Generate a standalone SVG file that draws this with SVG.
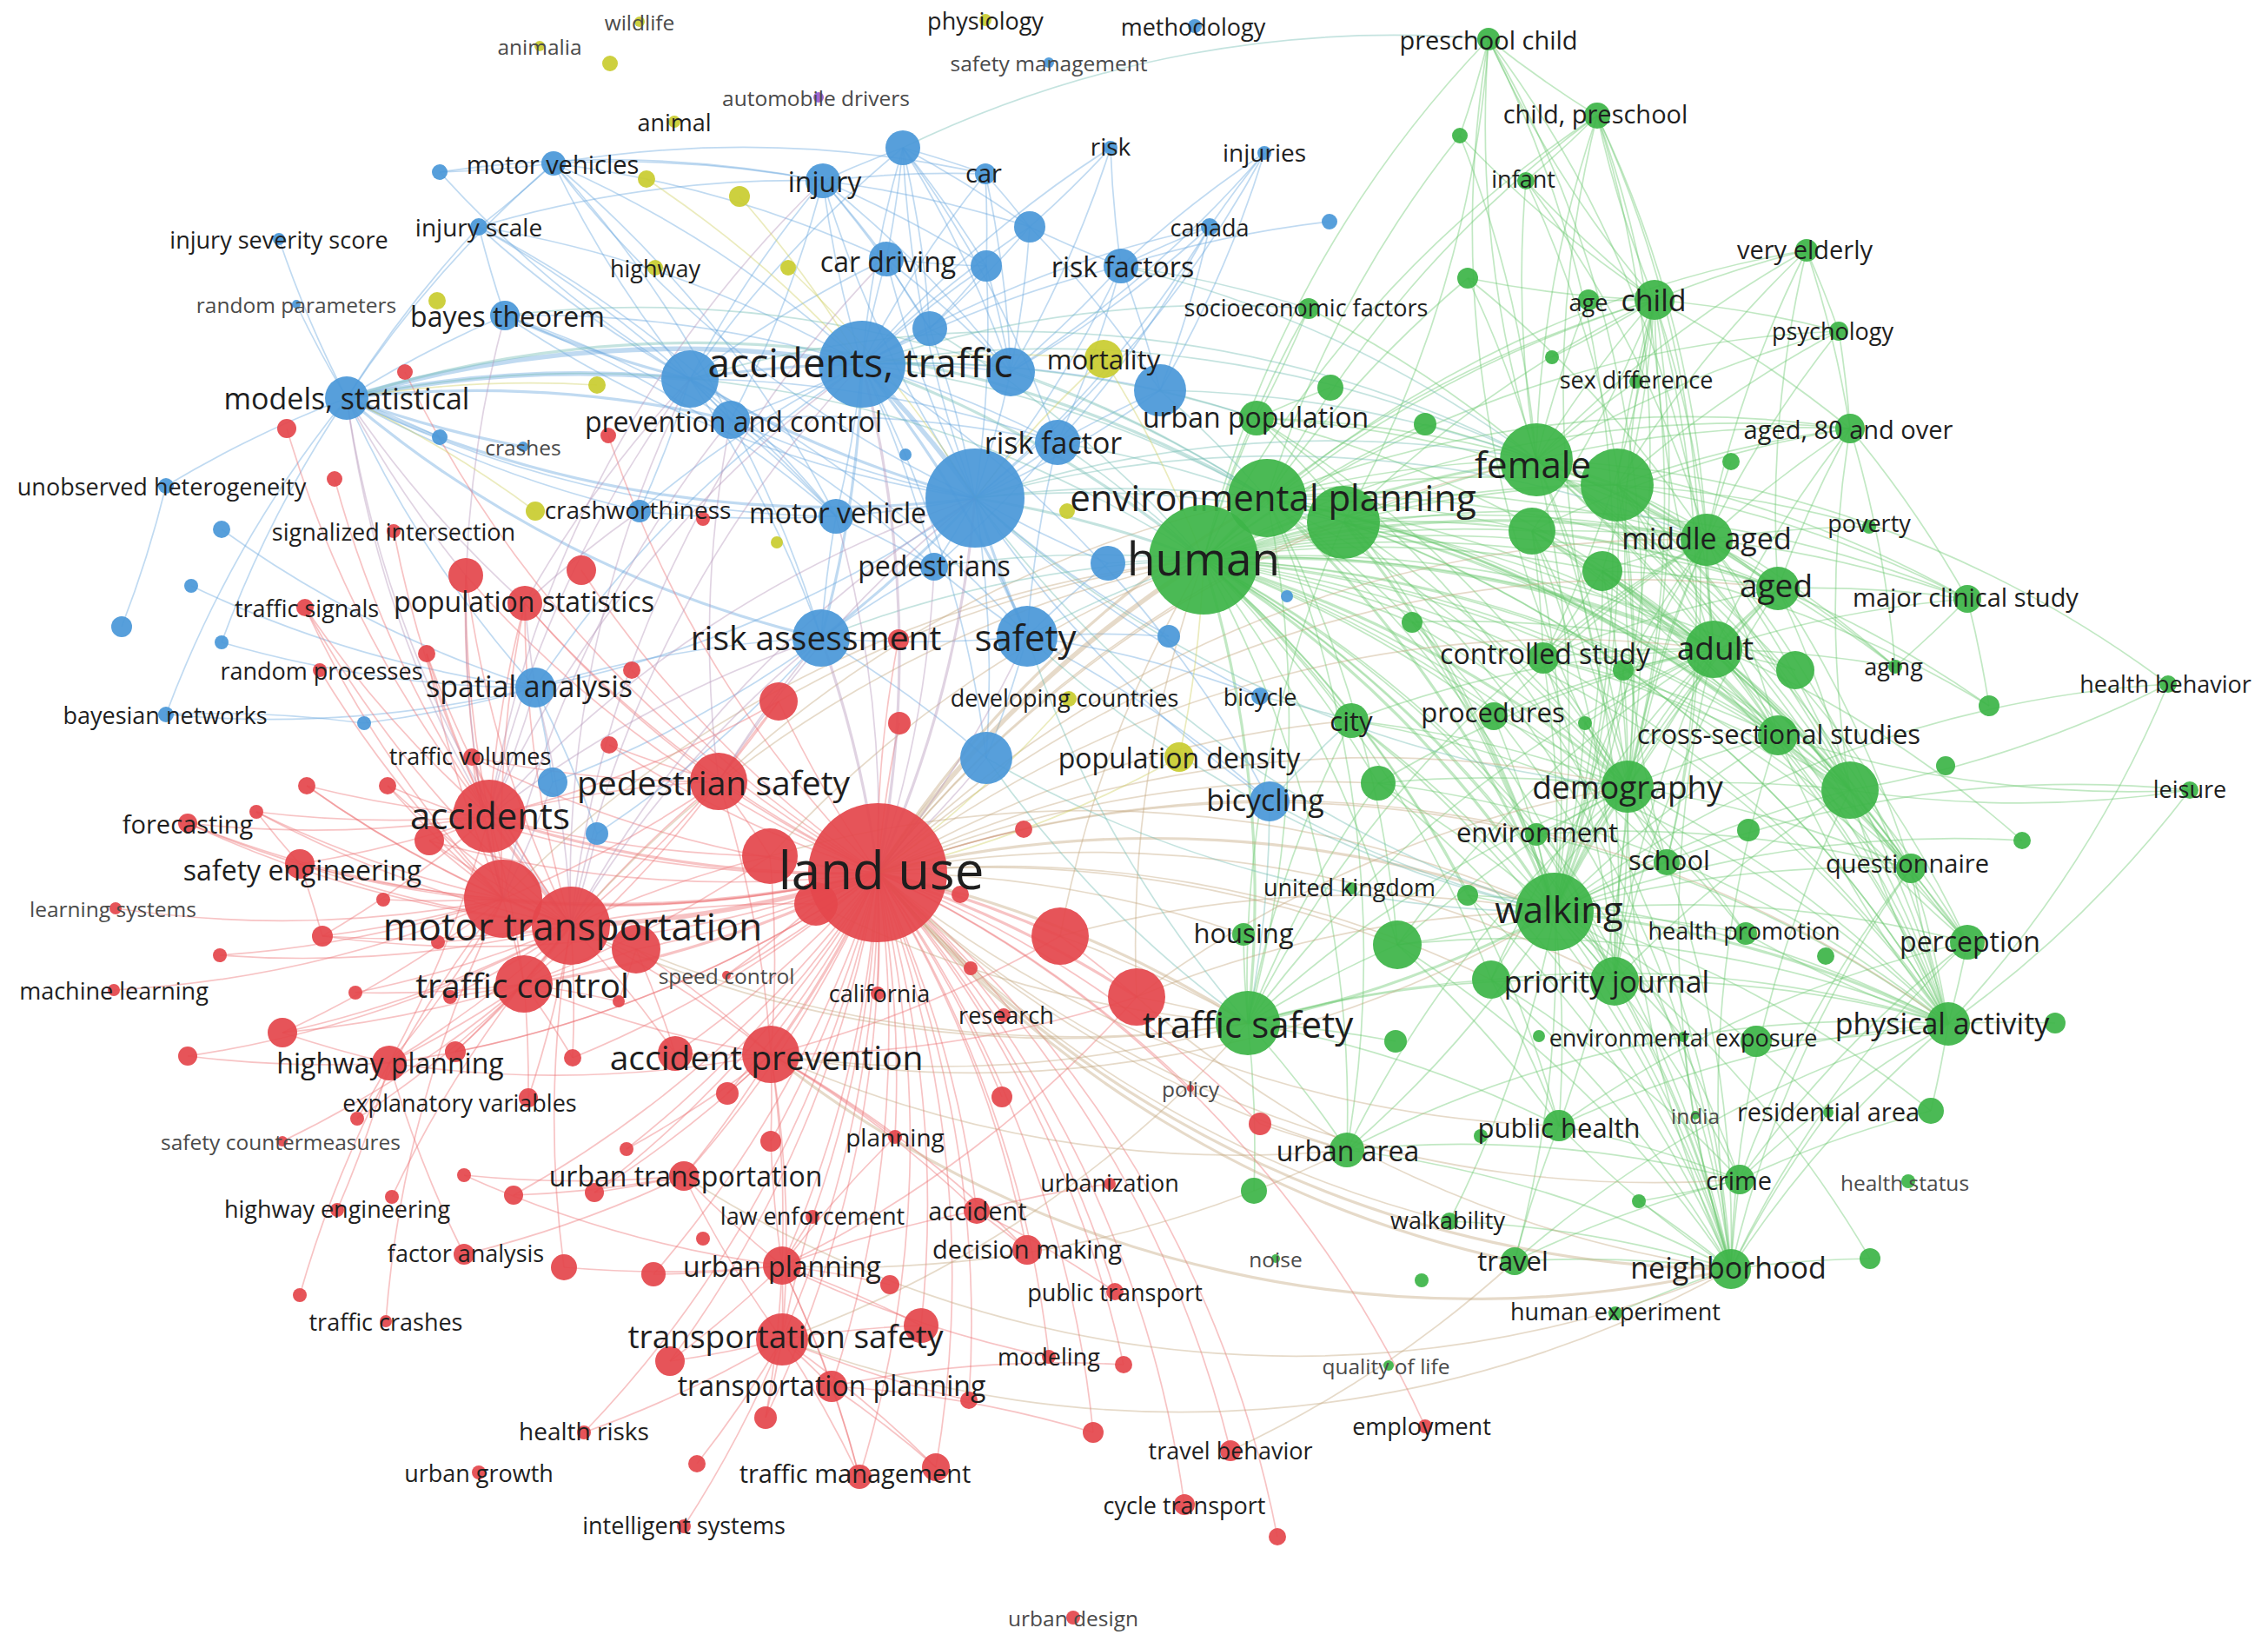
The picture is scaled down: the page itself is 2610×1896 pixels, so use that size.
<svg xmlns="http://www.w3.org/2000/svg" width="2610" height="1896" viewBox="0 0 2610 1896">
<style>
.er path{stroke:#ec6f73}.eb path{stroke:#6aa8dd}.eg path{stroke:#6cc76f}.et path{stroke:#c4a77f}.ebg path{stroke:#72bdb3}.ebr path{stroke:#b595b9}.ey path{stroke:#cfcf62}
#edges path{fill:none;stroke-width:1.7;stroke-opacity:.42}
#edges path.t2{stroke-width:3.2}#edges path.t3{stroke-width:5.5}
circle{fill-opacity:.93}
.r{fill:#e4474c}.b{fill:#4a98d8}.g{fill:#3db548}.y{fill:#c9cc30}.p{fill:#9a5bd1}
text{font-family:"Open Sans","DejaVu Sans",sans-serif;text-anchor:middle;dominant-baseline:central;fill:#1e1e1e}
.s24{font-size:24.5px;fill:#4a4a4a}.s27{font-size:27px}.s28{font-size:28px}.s29{font-size:29px}.s30{font-size:31px}.s32{font-size:32px}.s34{font-size:34px}.s37{font-size:37px}.s39{font-size:39px}.s42{font-size:42px}.s44{font-size:44px}.s46{font-size:46px}.s53{font-size:53px}.s60{font-size:60px}
</style>
<rect width="2610" height="1896" fill="#fff"/>
<g id="edges">
<g class="eg">
<path class="t2" d="M1385 644A1300 1300 0 0 1 1458 573"/>
<path class="t2" d="M1385 644A1300 1300 0 0 1 1546 601"/>
<path class="t2" d="M1385 644A1300 1300 0 0 1 1768 529"/>
<path d="M1385 644A1300 1300 0 0 1 1861 558"/>
<path d="M1385 644A1300 1300 0 0 1 1446 481"/>
<path d="M1385 644A1300 1300 0 0 1 1640 488"/>
<path d="M1385 644A1300 1300 0 0 1 1506 355"/>
<path d="M1385 644A1300 1300 0 0 1 1904 345"/>
<path class="t2" d="M1385 644A1300 1300 0 0 1 1964 621"/>
<path d="M1385 644A1300 1300 0 0 1 1763 611"/>
<path d="M1385 644A1300 1300 0 0 1 1844 657"/>
<path d="M1385 644A1300 1300 0 0 1 2046 677"/>
<path d="M1385 644A1300 1300 0 0 1 1776 757"/>
<path class="t2" d="M1385 644A1300 1300 0 0 1 1972 747"/>
<path d="M1385 644A1300 1300 0 0 1 2066 771"/>
<path d="M1385 644A1300 1300 0 0 1 2046 846"/>
<path d="M1385 644A1300 1300 0 0 1 2129 909"/>
<path class="t2" d="M1385 644A1300 1300 0 0 1 1873 905"/>
<path d="M1385 644A1300 1300 0 0 1 1768 960"/>
<path d="M1385 644A1300 1300 0 0 1 1918 992"/>
<path d="M1385 644A1300 1300 0 0 1 2199 999"/>
<path class="t2" d="M1385 644A1300 1300 0 0 1 1789 1049"/>
<path d="M1385 644A1300 1300 0 0 1 2009 1074"/>
<path d="M1385 644A1300 1300 0 0 1 2264 1084"/>
<path d="M1385 644A1300 1300 0 0 1 1858 1129"/>
<path d="M1385 644A1300 1300 0 0 1 1716 1127"/>
<path d="M1385 644A1300 1300 0 0 1 2242 1178"/>
<path class="t2" d="M1385 644A1300 1300 0 0 1 1436 1177"/>
<path d="M1385 644A1300 1300 0 0 1 1555 829"/>
<path d="M1385 644A1300 1300 0 0 1 1719 824"/>
<path d="M1385 644A1300 1300 0 0 1 1586 901"/>
<path d="M1385 644A1300 1300 0 0 1 1689 1030"/>
<path d="M1385 644A1300 1300 0 0 1 1608 1087"/>
<path d="M1385 644A1300 1300 0 0 1 1550 1323"/>
<path d="M1385 644A1300 1300 0 0 1 1794 1295"/>
<path d="M1385 644A1300 1300 0 0 1 2002 1357"/>
<path d="M1385 644A1300 1300 0 0 1 1992 1460"/>
<path d="M1385 644A1300 1300 0 0 1 2129 493"/>
<path d="M1385 644A1300 1300 0 0 1 2079 288"/>
<path d="M1385 644A1300 1300 0 0 1 1838 133"/>
<path d="M1385 644A1300 1300 0 0 1 2116 381"/>
<path d="M1385 644A1300 1300 0 0 1 2264 689"/>
<path d="M1385 644A1300 1300 0 0 1 2289 812"/>
<path d="M1385 644A1300 1300 0 0 1 2327 967"/>
<path d="M1385 644A1300 1300 0 0 1 1713 45"/>
<path d="M1385 644A1300 1300 0 0 1 1625 716"/>
<path d="M1458 573A1300 1300 0 0 1 1768 529"/>
<path d="M1458 573A1300 1300 0 0 1 1861 558"/>
<path d="M1458 573A1300 1300 0 0 1 1964 621"/>
<path d="M1458 573A1300 1300 0 0 1 1763 611"/>
<path d="M1458 573A1300 1300 0 0 1 2046 677"/>
<path d="M1458 573A1300 1300 0 0 1 1972 747"/>
<path d="M1458 573A1300 1300 0 0 1 2046 846"/>
<path d="M1458 573A1300 1300 0 0 1 2129 909"/>
<path d="M1458 573A1300 1300 0 0 1 1873 905"/>
<path class="t2" d="M1458 573A1300 1300 0 0 1 1789 1049"/>
<path d="M1458 573A1300 1300 0 0 1 1858 1129"/>
<path d="M1458 573A1300 1300 0 0 1 2242 1178"/>
<path d="M1458 573A1300 1300 0 0 1 1436 1177"/>
<path d="M1458 573A1300 1300 0 0 1 1608 1087"/>
<path d="M1458 573A1300 1300 0 0 1 1550 1323"/>
<path d="M1458 573A1300 1300 0 0 1 1992 1460"/>
<path d="M1458 573A1300 1300 0 0 1 1904 345"/>
<path d="M1458 573A1300 1300 0 0 1 1838 133"/>
<path d="M1458 573A1300 1300 0 0 1 2129 493"/>
<path d="M1458 573A1300 1300 0 0 1 2199 999"/>
<path d="M1458 573A1300 1300 0 0 1 2264 1084"/>
<path d="M1458 573A1300 1300 0 0 1 1546 601"/>
<path d="M1458 573A1300 1300 0 0 1 1689 320"/>
<path d="M1458 573A1300 1300 0 0 1 1680 156"/>
<path class="t2" d="M1768 529A1300 1300 0 0 1 1861 558"/>
<path d="M1768 529A1300 1300 0 0 1 1904 345"/>
<path class="t2" d="M1768 529A1300 1300 0 0 1 1964 621"/>
<path d="M1768 529A1300 1300 0 0 1 2046 677"/>
<path d="M1768 529A1300 1300 0 0 1 1972 747"/>
<path d="M1768 529A1300 1300 0 0 1 2129 493"/>
<path d="M1768 529A1300 1300 0 0 1 2079 288"/>
<path d="M1768 529A1300 1300 0 0 1 1838 133"/>
<path d="M1768 529A1300 1300 0 0 1 1713 45"/>
<path d="M1768 529A1300 1300 0 0 1 1756 208"/>
<path d="M1768 529A1300 1300 0 0 1 2116 381"/>
<path d="M1768 529A1300 1300 0 0 1 2046 846"/>
<path d="M1768 529A1300 1300 0 0 1 1873 905"/>
<path d="M1768 529A1300 1300 0 0 1 1789 1049"/>
<path d="M1768 529A1300 1300 0 0 1 2264 689"/>
<path d="M1768 529A1300 1300 0 0 1 2129 909"/>
<path d="M1768 529A1300 1300 0 0 1 2199 999"/>
<path d="M1768 529A1300 1300 0 0 1 2242 1178"/>
<path d="M1768 529A1300 1300 0 0 1 2264 1084"/>
<path d="M1768 529A1300 1300 0 0 1 1858 1129"/>
<path d="M1768 529A1300 1300 0 0 1 1828 345"/>
<path d="M1768 529A1300 1300 0 0 1 1883 439"/>
<path d="M1861 558A1300 1300 0 0 1 1964 621"/>
<path d="M1861 558A1300 1300 0 0 1 2046 677"/>
<path d="M1861 558A1300 1300 0 0 1 1972 747"/>
<path d="M1861 558A1300 1300 0 0 1 2129 493"/>
<path d="M1861 558A1300 1300 0 0 1 1904 345"/>
<path d="M1861 558A1300 1300 0 0 1 2046 846"/>
<path d="M1861 558A1300 1300 0 0 1 2129 909"/>
<path d="M1861 558A1300 1300 0 0 1 1873 905"/>
<path d="M1861 558A1300 1300 0 0 1 1789 1049"/>
<path d="M1861 558A1300 1300 0 0 1 2242 1178"/>
<path d="M1861 558A1300 1300 0 0 1 2264 689"/>
<path d="M1861 558A1300 1300 0 0 1 2181 767"/>
<path d="M1861 558A1300 1300 0 0 1 2151 606"/>
<path d="M1861 558A1300 1300 0 0 1 2079 288"/>
<path d="M1861 558A1300 1300 0 0 1 2116 381"/>
<path d="M1789 1049A1300 1300 0 0 1 1992 1460"/>
<path class="t2" d="M1789 1049A1300 1300 0 0 1 2242 1178"/>
<path d="M1789 1049A1300 1300 0 0 1 2264 1084"/>
<path d="M1789 1049A1300 1300 0 0 1 2199 999"/>
<path class="t2" d="M1789 1049A1300 1300 0 0 1 1873 905"/>
<path d="M1789 1049A1300 1300 0 0 1 2046 846"/>
<path d="M1789 1049A1300 1300 0 0 1 2129 909"/>
<path d="M1789 1049A1300 1300 0 0 1 1972 747"/>
<path d="M1789 1049A1300 1300 0 0 1 2046 677"/>
<path d="M1789 1049A1300 1300 0 0 1 1964 621"/>
<path d="M1789 1049A1300 1300 0 0 1 1858 1129"/>
<path d="M1789 1049A1300 1300 0 0 1 1794 1295"/>
<path d="M1789 1049A1300 1300 0 0 1 1743 1451"/>
<path d="M1789 1049A1300 1300 0 0 1 1668 1405"/>
<path d="M1789 1049A1300 1300 0 0 1 2002 1357"/>
<path d="M1789 1049A1300 1300 0 0 1 2104 1280"/>
<path d="M1789 1049A1300 1300 0 0 1 1550 1323"/>
<path class="t2" d="M1789 1049A1300 1300 0 0 1 1436 1177"/>
<path d="M1789 1049A1300 1300 0 0 1 1608 1087"/>
<path d="M1789 1049A1300 1300 0 0 1 1689 1030"/>
<path d="M1789 1049A1300 1300 0 0 1 1768 960"/>
<path d="M1789 1049A1300 1300 0 0 1 1918 992"/>
<path d="M1789 1049A1300 1300 0 0 1 2009 1074"/>
<path d="M1789 1049A1300 1300 0 0 1 1937 1193"/>
<path d="M1789 1049A1300 1300 0 0 1 2495 787"/>
<path d="M1789 1049A1300 1300 0 0 1 2520 909"/>
<path d="M1789 1049A1300 1300 0 0 1 2327 967"/>
<path d="M1789 1049A1300 1300 0 0 1 2222 1278"/>
<path d="M1789 1049A1300 1300 0 0 1 2152 1448"/>
<path d="M1992 1460A1300 1300 0 0 1 2002 1357"/>
<path d="M1743 1451A1300 1300 0 0 1 1992 1460"/>
<path d="M1668 1405A1300 1300 0 0 1 1992 1460"/>
<path d="M1992 1460A1300 1300 0 0 1 2242 1178"/>
<path d="M1992 1460A1300 1300 0 0 1 2264 1084"/>
<path d="M1992 1460A1300 1300 0 0 1 1873 905"/>
<path d="M1992 1460A1300 1300 0 0 1 2129 909"/>
<path d="M1992 1460A1300 1300 0 0 1 2104 1280"/>
<path d="M1992 1460A1300 1300 0 0 1 1794 1295"/>
<path d="M1550 1323A1300 1300 0 0 1 1992 1460"/>
<path d="M1886 1382A1300 1300 0 0 1 1992 1460"/>
<path d="M1992 1460A1300 1300 0 0 1 2152 1448"/>
<path d="M1859 1511A1300 1300 0 0 1 1992 1460"/>
<path d="M1992 1460A1300 1300 0 0 1 2199 999"/>
<path d="M1992 1460A1300 1300 0 0 1 1937 1193"/>
<path d="M1992 1460A1300 1300 0 0 1 2046 846"/>
<path d="M1992 1460A1300 1300 0 0 1 1972 747"/>
<path d="M1436 1177A1300 1300 0 0 1 1873 905"/>
<path d="M1436 1177A1300 1300 0 0 1 1550 1323"/>
<path d="M1436 1177A1300 1300 0 0 1 1858 1129"/>
<path d="M1436 1177A1300 1300 0 0 1 1608 1087"/>
<path d="M1436 1177A1300 1300 0 0 1 1716 1127"/>
<path d="M1436 1177A1300 1300 0 0 1 1431 1075"/>
<path d="M1436 1177A1300 1300 0 0 1 1555 829"/>
<path d="M1436 1177A1300 1300 0 0 1 1586 901"/>
<path d="M1436 1177A1300 1300 0 0 1 1794 1295"/>
<path d="M1436 1177A1300 1300 0 0 1 1546 601"/>
<path d="M1436 1177A1300 1300 0 0 1 1972 747"/>
<path d="M1436 1177A1300 1300 0 0 1 1964 621"/>
<path d="M1436 1177A1300 1300 0 0 1 1443 1370"/>
<path d="M1436 1177A1300 1300 0 0 1 1606 1198"/>
<path class="t2" d="M1972 747A1300 1300 0 0 1 1964 621"/>
<path class="t2" d="M1972 747A1300 1300 0 0 1 2046 677"/>
<path d="M1972 747A1300 1300 0 0 1 2046 846"/>
<path d="M1972 747A1300 1300 0 0 1 2129 909"/>
<path d="M1972 747A1300 1300 0 0 1 1873 905"/>
<path d="M1972 747A1300 1300 0 0 1 2199 999"/>
<path d="M1972 747A1300 1300 0 0 1 2242 1178"/>
<path d="M1972 747A1300 1300 0 0 1 2264 1084"/>
<path d="M1972 747A1300 1300 0 0 1 2264 689"/>
<path d="M1972 747A1300 1300 0 0 1 2181 767"/>
<path d="M1972 747A1300 1300 0 0 1 1904 345"/>
<path d="M1972 747A1300 1300 0 0 1 2129 493"/>
<path d="M1972 747A1300 1300 0 0 1 1844 657"/>
<path d="M1972 747A1300 1300 0 0 1 2066 771"/>
<path d="M1904 345A1300 1300 0 0 1 1838 133"/>
<path d="M1904 345A1300 1300 0 0 1 1713 45"/>
<path d="M1904 345A1300 1300 0 0 1 1756 208"/>
<path d="M1904 345A1300 1300 0 0 1 2079 288"/>
<path d="M1904 345A1300 1300 0 0 1 1828 345"/>
<path d="M1904 345A1300 1300 0 0 1 1883 439"/>
<path d="M1904 345A1300 1300 0 0 1 2116 381"/>
<path d="M1904 345A1300 1300 0 0 1 1964 621"/>
<path d="M1904 345A1300 1300 0 0 1 1873 905"/>
<path d="M1904 345A1300 1300 0 0 1 1918 992"/>
<path d="M1904 345A1300 1300 0 0 1 1763 611"/>
<path d="M1904 345A1300 1300 0 0 1 1844 657"/>
<path d="M1904 345A1300 1300 0 0 1 1689 320"/>
<path d="M1904 345A1300 1300 0 0 1 1680 156"/>
<path d="M1904 345A1300 1300 0 0 1 2129 493"/>
<path d="M1904 345A1300 1300 0 0 1 1786 411"/>
<path d="M1904 345A1300 1300 0 0 1 1776 757"/>
<path d="M1873 905A1300 1300 0 0 1 1964 621"/>
<path d="M1873 905A1300 1300 0 0 1 2046 677"/>
<path d="M1873 905A1300 1300 0 0 1 2046 846"/>
<path d="M1873 905A1300 1300 0 0 1 2129 909"/>
<path d="M1873 905A1300 1300 0 0 1 1918 992"/>
<path d="M1873 905A1300 1300 0 0 1 2199 999"/>
<path d="M1873 905A1300 1300 0 0 1 1858 1129"/>
<path d="M1873 905A1300 1300 0 0 1 2242 1178"/>
<path d="M1873 905A1300 1300 0 0 1 1794 1295"/>
<path d="M1873 905A1300 1300 0 0 1 1768 960"/>
<path d="M1873 905A1300 1300 0 0 1 2009 1074"/>
<path class="t2" d="M1964 621A1300 1300 0 0 1 2046 677"/>
<path d="M1964 621A1300 1300 0 0 1 2129 493"/>
<path d="M1964 621A1300 1300 0 0 1 2264 689"/>
<path d="M1964 621A1300 1300 0 0 1 2046 846"/>
<path d="M1964 621A1300 1300 0 0 1 2129 909"/>
<path d="M1964 621A1300 1300 0 0 1 2151 606"/>
<path d="M1964 621A1300 1300 0 0 1 2181 767"/>
<path d="M1964 621A1300 1300 0 0 1 2079 288"/>
<path d="M1964 621A1300 1300 0 0 1 2116 381"/>
<path d="M1964 621A1300 1300 0 0 1 1992 531"/>
<path d="M1964 621A1300 1300 0 0 1 2242 1178"/>
<path d="M2046 677A1300 1300 0 0 1 2129 493"/>
<path d="M2046 677A1300 1300 0 0 1 2264 689"/>
<path d="M2046 677A1300 1300 0 0 1 2079 288"/>
<path d="M2046 677A1300 1300 0 0 1 2181 767"/>
<path d="M2046 677A1300 1300 0 0 1 2129 909"/>
<path d="M2046 677A1300 1300 0 0 1 2242 1178"/>
<path d="M2046 677A1300 1300 0 0 1 2289 812"/>
<path d="M2495 787A1300 1300 0 0 1 2129 909"/>
<path d="M2495 787A1300 1300 0 0 1 2242 1178"/>
<path d="M1768 529A1300 1300 0 0 1 2495 787"/>
<path d="M2520 909A1300 1300 0 0 1 2242 1178"/>
<path d="M2520 909A1300 1300 0 0 1 2129 909"/>
<path d="M2520 909A1300 1300 0 0 1 2046 846"/>
<path d="M2079 288A1300 1300 0 0 1 2129 493"/>
<path d="M2079 288A1300 1300 0 0 1 2116 381"/>
<path d="M2116 381A1300 1300 0 0 1 2129 493"/>
<path d="M2264 1084A1300 1300 0 0 1 2242 1178"/>
<path d="M2264 1084A1300 1300 0 0 1 2199 999"/>
<path d="M2264 1084A1300 1300 0 0 1 2129 909"/>
<path d="M2264 1084A1300 1300 0 0 1 2046 846"/>
<path d="M2242 1178A1300 1300 0 0 1 2199 999"/>
<path d="M2242 1178A1300 1300 0 0 1 2129 909"/>
<path d="M2242 1178A1300 1300 0 0 1 2365 1177"/>
<path d="M2242 1178A1300 1300 0 0 1 2046 846"/>
<path d="M2242 1178A1300 1300 0 0 1 2222 1278"/>
<path d="M2242 1178A1300 1300 0 0 1 2009 1074"/>
<path d="M2242 1178A1300 1300 0 0 1 2021 1198"/>
<path d="M2002 1357A1300 1300 0 0 1 1886 1382"/>
<path d="M2002 1357A1300 1300 0 0 1 2222 1278"/>
<path d="M2002 1357A1300 1300 0 0 1 2242 1178"/>
<path d="M2002 1357A1300 1300 0 0 1 2264 1084"/>
<path d="M2002 1357A1300 1300 0 0 1 2199 999"/>
<path d="M1838 133A1300 1300 0 0 1 1713 45"/>
<path d="M1838 133A1300 1300 0 0 1 1756 208"/>
<path d="M1713 45A1300 1300 0 0 1 1680 156"/>
<path d="M1506 355A1300 1300 0 0 1 1446 481"/>
<path d="M1506 355A1300 1300 0 0 1 1768 529"/>
<path d="M1446 481A1300 1300 0 0 1 1768 529"/>
<path d="M1446 481A1300 1300 0 0 1 1531 446"/>
<path d="M1640 488A1300 1300 0 0 1 1768 529"/>
<path d="M1713 45A1300 1300 0 0 1 1972 747"/>
<path d="M1713 45A1300 1300 0 0 1 1546 601"/>
<path d="M1838 133A1300 1300 0 0 1 1964 621"/>
<path d="M1763 611A1300 1300 0 0 1 1964 621"/>
<path d="M1763 611A1300 1300 0 0 1 1972 747"/>
<path d="M1763 611A1300 1300 0 0 1 2046 677"/>
<path d="M1763 611A1300 1300 0 0 1 1873 905"/>
<path d="M1763 611A1300 1300 0 0 1 1789 1049"/>
<path d="M1763 611A1300 1300 0 0 1 1776 757"/>
<path d="M1763 611A1300 1300 0 0 1 2046 846"/>
<path d="M1763 611A1300 1300 0 0 1 2129 909"/>
<path d="M1763 611A1300 1300 0 0 1 2129 493"/>
<path d="M1763 611A1300 1300 0 0 1 1858 1129"/>
<path d="M1763 611A1300 1300 0 0 1 2242 1178"/>
<path d="M1844 657A1300 1300 0 0 1 1964 621"/>
<path d="M1844 657A1300 1300 0 0 1 2046 677"/>
<path d="M1844 657A1300 1300 0 0 1 1873 905"/>
<path d="M1844 657A1300 1300 0 0 1 1789 1049"/>
<path d="M1844 657A1300 1300 0 0 1 2046 846"/>
<path d="M1844 657A1300 1300 0 0 1 2129 909"/>
<path d="M1844 657A1300 1300 0 0 1 2242 1178"/>
<path d="M1844 657A1300 1300 0 0 1 2199 999"/>
<path d="M1844 657A1300 1300 0 0 1 1776 757"/>
<path d="M1776 757A1300 1300 0 0 1 1964 621"/>
<path d="M1776 757A1300 1300 0 0 1 1972 747"/>
<path d="M1776 757A1300 1300 0 0 1 2046 677"/>
<path d="M1776 757A1300 1300 0 0 1 1873 905"/>
<path d="M1776 757A1300 1300 0 0 1 1789 1049"/>
<path d="M1776 757A1300 1300 0 0 1 2046 846"/>
<path d="M1776 757A1300 1300 0 0 1 2129 909"/>
<path d="M1776 757A1300 1300 0 0 1 1858 1129"/>
<path d="M1776 757A1300 1300 0 0 1 2242 1178"/>
<path d="M1868 771A1300 1300 0 0 1 1964 621"/>
<path d="M1868 771A1300 1300 0 0 1 1972 747"/>
<path d="M1868 771A1300 1300 0 0 1 1873 905"/>
<path d="M1868 771A1300 1300 0 0 1 1789 1049"/>
<path d="M1824 832A1300 1300 0 0 1 1972 747"/>
<path d="M1824 832A1300 1300 0 0 1 1789 1049"/>
<path d="M1824 832A1300 1300 0 0 1 1873 905"/>
<path d="M1768 960A1300 1300 0 0 1 1992 1460"/>
<path d="M1768 960A1300 1300 0 0 1 1858 1129"/>
<path d="M1768 960A1300 1300 0 0 1 2242 1178"/>
<path d="M1768 960A1300 1300 0 0 1 2199 999"/>
<path d="M1716 1127A1300 1300 0 0 1 1992 1460"/>
<path d="M1716 1127A1300 1300 0 0 1 1873 905"/>
<path d="M1716 1127A1300 1300 0 0 1 1972 747"/>
<path d="M1716 1127A1300 1300 0 0 1 2242 1178"/>
<path d="M1716 1127A1300 1300 0 0 1 1794 1295"/>
<path d="M1716 1127A1300 1300 0 0 1 2002 1357"/>
<path d="M1586 901A1300 1300 0 0 1 1789 1049"/>
<path d="M1586 901A1300 1300 0 0 1 1873 905"/>
<path d="M1586 901A1300 1300 0 0 1 1972 747"/>
<path d="M1586 901A1300 1300 0 0 1 1992 1460"/>
<path d="M1586 901A1300 1300 0 0 1 2242 1178"/>
<path d="M1555 829A1300 1300 0 0 1 1789 1049"/>
<path d="M1555 829A1300 1300 0 0 1 1873 905"/>
<path d="M1555 829A1300 1300 0 0 1 1992 1460"/>
<path d="M1555 829A1300 1300 0 0 1 2242 1178"/>
<path d="M1555 829A1300 1300 0 0 1 1972 747"/>
<path d="M1719 824A1300 1300 0 0 1 1789 1049"/>
<path d="M1719 824A1300 1300 0 0 1 1873 905"/>
<path d="M1719 824A1300 1300 0 0 1 1972 747"/>
<path d="M1719 824A1300 1300 0 0 1 1964 621"/>
<path d="M1625 716A1300 1300 0 0 1 1789 1049"/>
<path d="M1625 716A1300 1300 0 0 1 1972 747"/>
<path d="M1625 716A1300 1300 0 0 1 1873 905"/>
<path d="M1689 1030A1300 1300 0 0 1 1992 1460"/>
<path d="M1689 1030A1300 1300 0 0 1 2242 1178"/>
<path d="M1608 1087A1300 1300 0 0 1 1992 1460"/>
<path d="M1608 1087A1300 1300 0 0 1 2242 1178"/>
<path d="M1608 1087A1300 1300 0 0 1 1873 905"/>
<path d="M1608 1087A1300 1300 0 0 1 1972 747"/>
<path d="M1608 1087A1300 1300 0 0 1 1794 1295"/>
<path d="M1546 601A1300 1300 0 0 1 1768 529"/>
<path d="M1546 601A1300 1300 0 0 1 1861 558"/>
<path d="M1546 601A1300 1300 0 0 1 1964 621"/>
<path d="M1546 601A1300 1300 0 0 1 1972 747"/>
<path d="M1546 601A1300 1300 0 0 1 1873 905"/>
<path class="t2" d="M1546 601A1300 1300 0 0 1 1789 1049"/>
<path d="M1546 601A1300 1300 0 0 1 2046 677"/>
<path d="M1546 601A1300 1300 0 0 1 2242 1178"/>
<path d="M1546 601A1300 1300 0 0 1 1992 1460"/>
<path d="M1546 601A1300 1300 0 0 1 2129 909"/>
<path d="M1546 601A1300 1300 0 0 1 2046 846"/>
<path d="M1546 601A1300 1300 0 0 1 1904 345"/>
<path d="M1446 481A1300 1300 0 0 1 1789 1049"/>
<path d="M1446 481A1300 1300 0 0 1 1873 905"/>
<path d="M1446 481A1300 1300 0 0 1 1972 747"/>
<path d="M1446 481A1300 1300 0 0 1 1964 621"/>
<path d="M1446 481A1300 1300 0 0 1 1992 1460"/>
<path d="M1918 992A1300 1300 0 0 1 1904 345"/>
<path d="M1918 992A1300 1300 0 0 1 1838 133"/>
<path d="M1918 992A1300 1300 0 0 1 1713 45"/>
<path d="M1918 992A1300 1300 0 0 1 1992 1460"/>
<path d="M1858 1129A1300 1300 0 0 1 1964 621"/>
<path d="M1858 1129A1300 1300 0 0 1 1972 747"/>
<path d="M1858 1129A1300 1300 0 0 1 2046 677"/>
<path d="M1858 1129A1300 1300 0 0 1 2242 1178"/>
<path d="M1858 1129A1300 1300 0 0 1 1992 1460"/>
<path d="M1858 1129A1300 1300 0 0 1 2129 909"/>
<path d="M2129 909A1300 1300 0 0 1 2199 999"/>
<path d="M2129 909A1300 1300 0 0 1 2129 493"/>
<path d="M2046 846A1300 1300 0 0 1 2199 999"/>
<path d="M1794 1295A1300 1300 0 0 1 2242 1178"/>
<path d="M1794 1295A1300 1300 0 0 1 2264 1084"/>
<path d="M1794 1295A1300 1300 0 0 1 2002 1357"/>
<path d="M1743 1451A1300 1300 0 0 1 2242 1178"/>
<path d="M1743 1451A1300 1300 0 0 1 2002 1357"/>
<path d="M1743 1451A1300 1300 0 0 1 1794 1295"/>
<path d="M1550 1323A1300 1300 0 0 1 2242 1178"/>
<path d="M1550 1323A1300 1300 0 0 1 2002 1357"/>
<path d="M1550 1323A1300 1300 0 0 1 1873 905"/>
<path d="M2129 493A1300 1300 0 0 1 2181 767"/>
<path d="M2129 493A1300 1300 0 0 1 2264 689"/>
<path d="M2264 689A1300 1300 0 0 1 2181 767"/>
<path d="M2264 689A1300 1300 0 0 1 2289 812"/>
<path d="M1713 45A1300 1300 0 0 1 1789 1049"/>
<path d="M1713 45A1300 1300 0 0 1 1873 905"/>
<path d="M1838 133A1300 1300 0 0 1 1873 905"/>
<path d="M1838 133A1300 1300 0 0 1 1789 1049"/>
<path d="M1838 133A1300 1300 0 0 1 1918 992"/>
<path d="M1756 208A1300 1300 0 0 1 1964 621"/>
<path d="M1756 208A1300 1300 0 0 1 1873 905"/>
<path d="M1689 320A1300 1300 0 0 1 1768 529"/>
<path d="M1689 320A1300 1300 0 0 1 1964 621"/>
<path d="M1680 156A1300 1300 0 0 1 1768 529"/>
</g>
<g class="eb">
<path class="t3" d="M399 458A1300 1300 0 0 1 992 419"/>
<path class="t3" d="M399 458A1300 1300 0 0 1 794 436"/>
<path class="t2" d="M399 458A1300 1300 0 0 1 841 483"/>
<path d="M399 458A1300 1300 0 0 1 581 363"/>
<path d="M399 458A1300 1300 0 0 1 506 503"/>
<path class="t2" d="M399 458A1300 1300 0 0 0 602 514"/>
<path class="t2" d="M399 458A1300 1300 0 0 0 1122 573"/>
<path d="M399 458A1300 1300 0 0 1 551 261"/>
<path d="M399 458A1300 1300 0 0 0 191 559"/>
<path d="M399 458A1300 1300 0 0 0 616 791"/>
<path class="t2" d="M399 458A1300 1300 0 0 0 945 734"/>
<path d="M399 458A1300 1300 0 0 0 736 588"/>
<path d="M399 458A1300 1300 0 0 0 962 594"/>
<path d="M399 458A1300 1300 0 0 0 191 822"/>
<path d="M399 458A1300 1300 0 0 0 255 739"/>
<path d="M399 458A1300 1300 0 0 1 321 275"/>
<path d="M399 458A1300 1300 0 0 1 341 350"/>
<path d="M399 458A1300 1300 0 0 1 637 188"/>
<path class="t2" d="M992 419A1300 1300 0 0 0 794 436"/>
<path d="M992 419A1300 1300 0 0 1 841 483"/>
<path d="M992 419A1300 1300 0 0 1 1163 428"/>
<path d="M992 419A1300 1300 0 0 1 1070 378"/>
<path d="M992 419A1300 1300 0 0 1 1335 449"/>
<path d="M992 419A1300 1300 0 0 1 947 208"/>
<path d="M992 419A1300 1300 0 0 1 1039 170"/>
<path d="M992 419A1300 1300 0 0 1 1185 261"/>
<path d="M992 419A1300 1300 0 0 1 1020 298"/>
<path d="M992 419A1300 1300 0 0 1 1135 306"/>
<path d="M992 419A1300 1300 0 0 1 1290 306"/>
<path d="M992 419A1300 1300 0 0 1 1217 509"/>
<path d="M992 419A1300 1300 0 0 1 962 594"/>
<path class="t3" d="M992 419A1300 1300 0 0 1 1122 573"/>
<path d="M992 419A1300 1300 0 0 1 1075 652"/>
<path class="t2" d="M992 419A1300 1300 0 0 1 1182 732"/>
<path class="t2" d="M992 419A1300 1300 0 0 1 945 734"/>
<path d="M992 419A1300 1300 0 0 0 637 188"/>
<path d="M992 419A1300 1300 0 0 0 551 261"/>
<path d="M992 419A1300 1300 0 0 0 581 363"/>
<path d="M992 419A1300 1300 0 0 1 1135 872"/>
<path d="M992 419A1300 1300 0 0 1 1461 922"/>
<path d="M992 419A1300 1300 0 0 0 616 791"/>
<path d="M992 419A1300 1300 0 0 0 736 588"/>
<path d="M992 419A1300 1300 0 0 1 1392 261"/>
<path d="M992 419A1300 1300 0 0 1 1278 170"/>
<path d="M992 419A1300 1300 0 0 1 1134 200"/>
<path class="t2" d="M1122 573A1300 1300 0 0 1 794 436"/>
<path d="M1122 573A1300 1300 0 0 1 841 483"/>
<path d="M1122 573A1300 1300 0 0 0 1163 428"/>
<path d="M1122 573A1300 1300 0 0 0 1070 378"/>
<path d="M1122 573A1300 1300 0 0 0 1335 449"/>
<path d="M1122 573A1300 1300 0 0 1 947 208"/>
<path d="M1122 573A1300 1300 0 0 1 1039 170"/>
<path d="M1122 573A1300 1300 0 0 1 1020 298"/>
<path d="M1122 573A1300 1300 0 0 0 1135 306"/>
<path d="M1122 573A1300 1300 0 0 0 1290 306"/>
<path d="M1122 573A1300 1300 0 0 0 1217 509"/>
<path d="M1122 573A1300 1300 0 0 1 962 594"/>
<path d="M1122 573A1300 1300 0 0 1 1075 652"/>
<path d="M1122 573A1300 1300 0 0 0 1275 648"/>
<path class="t2" d="M1122 573A1300 1300 0 0 0 1182 732"/>
<path class="t2" d="M1122 573A1300 1300 0 0 1 945 734"/>
<path d="M1122 573A1300 1300 0 0 1 1135 872"/>
<path d="M1122 573A1300 1300 0 0 0 1461 922"/>
<path d="M1122 573A1300 1300 0 0 1 616 791"/>
<path d="M1122 573A1300 1300 0 0 1 637 188"/>
<path d="M1122 573A1300 1300 0 0 1 581 363"/>
<path d="M1122 573A1300 1300 0 0 0 1392 261"/>
<path d="M1122 573A1300 1300 0 0 0 1345 732"/>
<path d="M1122 573A1300 1300 0 0 0 1450 801"/>
<path d="M1122 573A1300 1300 0 0 0 1455 176"/>
<path d="M794 436A1300 1300 0 0 1 841 483"/>
<path d="M794 436A1300 1300 0 0 1 947 208"/>
<path d="M794 436A1300 1300 0 0 1 1039 170"/>
<path d="M794 436A1300 1300 0 0 1 1020 298"/>
<path d="M794 436A1300 1300 0 0 1 1217 509"/>
<path d="M794 436A1300 1300 0 0 1 962 594"/>
<path d="M794 436A1300 1300 0 0 1 1182 732"/>
<path d="M794 436A1300 1300 0 0 1 945 734"/>
<path d="M794 436A1300 1300 0 0 1 637 188"/>
<path d="M794 436A1300 1300 0 0 1 551 261"/>
<path class="t2" d="M794 436A1300 1300 0 0 1 581 363"/>
<path d="M794 436A1300 1300 0 0 1 736 588"/>
<path d="M794 436A1300 1300 0 0 1 506 198"/>
<path d="M947 208A1300 1300 0 0 1 1039 170"/>
<path d="M947 208A1300 1300 0 0 1 1134 200"/>
<path d="M947 208A1300 1300 0 0 1 1020 298"/>
<path d="M947 208A1300 1300 0 0 1 1135 306"/>
<path d="M947 208A1300 1300 0 0 0 637 188"/>
<path d="M947 208A1300 1300 0 0 0 551 261"/>
<path d="M947 208A1300 1300 0 0 1 1070 378"/>
<path d="M947 208A1300 1300 0 0 1 841 483"/>
<path d="M947 208A1300 1300 0 0 0 506 198"/>
<path d="M947 208A1300 1300 0 0 1 1163 428"/>
<path d="M947 208A1300 1300 0 0 1 1185 261"/>
<path d="M1039 170A1300 1300 0 0 1 1134 200"/>
<path d="M1039 170A1300 1300 0 0 1 1020 298"/>
<path d="M1039 170A1300 1300 0 0 1 1135 306"/>
<path d="M1039 170A1300 1300 0 0 1 1070 378"/>
<path d="M1039 170A1300 1300 0 0 1 1185 261"/>
<path d="M1039 170A1300 1300 0 0 1 1163 428"/>
<path d="M1039 170A1300 1300 0 0 1 1217 509"/>
<path d="M1290 306A1300 1300 0 0 1 1392 261"/>
<path d="M1290 306A1300 1300 0 0 1 1278 170"/>
<path d="M1290 306A1300 1300 0 0 1 1455 176"/>
<path d="M1290 306A1300 1300 0 0 1 1185 261"/>
<path d="M1290 306A1300 1300 0 0 1 1217 509"/>
<path d="M1290 306A1300 1300 0 0 1 1335 449"/>
<path d="M1290 306A1300 1300 0 0 1 1163 428"/>
<path d="M1290 306A1300 1300 0 0 1 1530 255"/>
<path d="M1185 261A1300 1300 0 0 1 1163 428"/>
<path d="M1185 261A1300 1300 0 0 1 1070 378"/>
<path d="M1185 261A1300 1300 0 0 1 1335 449"/>
<path d="M1392 261A1300 1300 0 0 1 1335 449"/>
<path d="M1392 261A1300 1300 0 0 1 1217 509"/>
<path d="M1392 261A1300 1300 0 0 1 1163 428"/>
<path d="M1278 170A1300 1300 0 0 1 1185 261"/>
<path d="M1278 170A1300 1300 0 0 1 1163 428"/>
<path d="M1455 176A1300 1300 0 0 1 1335 449"/>
<path d="M1455 176A1300 1300 0 0 1 1163 428"/>
<path d="M1135 306A1300 1300 0 0 1 1070 378"/>
<path d="M1135 306A1300 1300 0 0 1 1020 298"/>
<path d="M1135 306A1300 1300 0 0 1 1163 428"/>
<path d="M1020 298A1300 1300 0 0 1 1163 428"/>
<path d="M1134 200A1300 1300 0 0 1 1135 306"/>
<path d="M1134 200A1300 1300 0 0 1 1163 428"/>
<path d="M1182 732A1300 1300 0 0 1 945 734"/>
<path d="M1182 732A1300 1300 0 0 1 1217 509"/>
<path d="M1182 732A1300 1300 0 0 1 1135 872"/>
<path d="M1182 732A1300 1300 0 0 1 1461 922"/>
<path d="M1182 732A1300 1300 0 0 1 1075 652"/>
<path d="M1182 732A1300 1300 0 0 1 1275 648"/>
<path d="M1182 732A1300 1300 0 0 1 1345 732"/>
<path d="M1182 732A1300 1300 0 0 1 1450 801"/>
<path d="M616 791A1300 1300 0 0 1 945 734"/>
<path d="M616 791A1300 1300 0 0 1 636 900"/>
<path d="M616 791A1300 1300 0 0 1 419 832"/>
<path d="M616 791A1300 1300 0 0 1 255 739"/>
<path d="M616 791A1300 1300 0 0 1 191 822"/>
<path d="M616 791A1300 1300 0 0 1 255 609"/>
<path d="M616 791A1300 1300 0 0 1 687 959"/>
<path d="M616 791A1300 1300 0 0 1 220 674"/>
<path d="M945 734A1300 1300 0 0 1 1075 652"/>
<path d="M945 734A1300 1300 0 0 1 962 594"/>
<path d="M945 734A1300 1300 0 0 1 1135 872"/>
<path d="M945 734A1300 1300 0 0 1 636 900"/>
<path d="M945 734A1300 1300 0 0 1 687 959"/>
<path d="M637 188A1300 1300 0 0 1 551 261"/>
<path d="M637 188A1300 1300 0 0 1 506 198"/>
<path d="M637 188A1300 1300 0 0 1 841 483"/>
<path d="M637 188A1300 1300 0 0 1 962 594"/>
<path d="M637 188A1300 1300 0 0 1 1020 298"/>
<path d="M637 188A1300 1300 0 0 1 1134 200"/>
<path d="M581 363A1300 1300 0 0 1 551 261"/>
<path d="M581 363A1300 1300 0 0 1 841 483"/>
<path d="M581 363A1300 1300 0 0 1 962 594"/>
<path d="M551 261A1300 1300 0 0 1 841 483"/>
<path d="M551 261A1300 1300 0 0 1 962 594"/>
<path d="M841 483A1300 1300 0 0 1 962 594"/>
<path d="M841 483A1300 1300 0 0 1 1217 509"/>
<path d="M841 483A1300 1300 0 0 1 945 734"/>
<path d="M841 483A1300 1300 0 0 1 1075 652"/>
<path d="M1392 261A1300 1300 0 0 1 1455 176"/>
<path d="M191 559A1300 1300 0 0 1 140 721"/>
<path d="M191 822A1300 1300 0 0 1 419 832"/>
<path d="M1217 509A1300 1300 0 0 1 1335 449"/>
<path d="M1217 509A1300 1300 0 0 1 1075 652"/>
<path d="M962 594A1300 1300 0 0 1 736 588"/>
<path d="M962 594A1300 1300 0 0 1 1075 652"/>
<path d="M1134 200A1300 1300 0 0 1 1185 261"/>
<path d="M1070 378A1300 1300 0 0 1 1020 298"/>
</g>
<g class="er">
<path d="M1010 1004A1300 1300 0 0 1 939 1040"/>
<path d="M1010 1004A1300 1300 0 0 1 886 985"/>
<path class="t2" d="M1010 1004A1300 1300 0 0 1 579 1034"/>
<path class="t3" d="M1010 1004A1300 1300 0 0 1 657 1065"/>
<path d="M1010 1004A1300 1300 0 0 1 732 1092"/>
<path class="t2" d="M1010 1004A1300 1300 0 0 1 563 939"/>
<path d="M1010 1004A1300 1300 0 0 1 827 899"/>
<path class="t2" d="M1010 1004A1300 1300 0 0 1 603 1132"/>
<path d="M1010 1004A1300 1300 0 0 1 604 694"/>
<path d="M1010 1004A1300 1300 0 0 1 536 662"/>
<path d="M1010 1004A1300 1300 0 0 1 669 656"/>
<path d="M1010 1004A1300 1300 0 0 1 727 771"/>
<path d="M1010 1004A1300 1300 0 0 1 543 871"/>
<path d="M1010 1004A1300 1300 0 0 1 701 857"/>
<path d="M1010 1004A1300 1300 0 0 1 345 994"/>
<path d="M1010 1004A1300 1300 0 0 1 448 1223"/>
<path class="t2" d="M1010 1004A1300 1300 0 0 1 887 1213"/>
<path d="M1010 1004A1300 1300 0 0 1 777 1212"/>
<path d="M1010 1004A1300 1300 0 0 1 837 1258"/>
<path d="M1010 1004A1300 1300 0 0 1 1155 1168"/>
<path d="M1010 1004A1300 1300 0 0 1 1010 1143"/>
<path d="M1010 1004A1300 1300 0 0 1 1117 1114"/>
<path d="M1010 1004A1300 1300 0 0 1 1105 1029"/>
<path d="M1010 1004A1300 1300 0 0 1 1178 954"/>
<path class="t2" d="M1010 1004A1300 1300 0 0 1 1220 1077"/>
<path class="t2" d="M1010 1004A1300 1300 0 0 1 1308 1147"/>
<path d="M1010 1004A1300 1300 0 0 1 896 807"/>
<path d="M1010 1004A1300 1300 0 0 1 1035 832"/>
<path d="M1010 1004A1300 1300 0 0 1 1034 736"/>
<path d="M1010 1004A1300 1300 0 0 1 1153 1262"/>
<path d="M1010 1004A1300 1300 0 0 1 1030 1308"/>
<path d="M1010 1004A1300 1300 0 0 1 787 1353"/>
<path d="M1010 1004A1300 1300 0 0 1 887 1313"/>
<path d="M1010 1004A1300 1300 0 0 1 1124 1393"/>
<path d="M1010 1004A1300 1300 0 0 1 1182 1438"/>
<path d="M1010 1004A1300 1300 0 0 1 900 1456"/>
<path d="M1010 1004A1300 1300 0 0 1 900 1541"/>
<path d="M1010 1004A1300 1300 0 0 1 1060 1525"/>
<path d="M1010 1004A1300 1300 0 0 1 957 1595"/>
<path d="M1010 1004A1300 1300 0 0 1 216 947"/>
<path d="M1010 1004A1300 1300 0 0 1 446 904"/>
<path d="M1010 1004A1300 1300 0 0 1 494 967"/>
<path d="M1010 1004A1300 1300 0 0 1 371 1077"/>
<path d="M1010 1004A1300 1300 0 0 1 524 1210"/>
<path d="M1010 1004A1300 1300 0 0 1 659 1217"/>
<path d="M1010 1004A1300 1300 0 0 1 1450 1293"/>
<path d="M1010 1004A1300 1300 0 0 1 1283 1486"/>
<path d="M1010 1004A1300 1300 0 0 1 1416 1669"/>
<path d="M1010 1004A1300 1300 0 0 1 1363 1731"/>
<path d="M1010 1004A1300 1300 0 0 1 989 1699"/>
<path d="M1010 1004A1300 1300 0 0 1 836 1122"/>
<path d="M1010 1004A1300 1300 0 0 1 700 501"/>
<path d="M1010 1004A1300 1300 0 0 1 466 428"/>
<path d="M1010 1004A1300 1300 0 0 1 1370 1252"/>
<path d="M1010 1004A1300 1300 0 0 1 721 1322"/>
<path d="M1010 1004A1300 1300 0 0 1 684 1372"/>
<path d="M1010 1004A1300 1300 0 0 1 591 1375"/>
<path d="M1010 1004A1300 1300 0 0 1 935 1400"/>
<path d="M1010 1004A1300 1300 0 0 1 752 1466"/>
<path d="M1010 1004A1300 1300 0 0 1 771 1566"/>
<path d="M1010 1004A1300 1300 0 0 1 881 1631"/>
<path d="M1010 1004A1300 1300 0 0 1 1258 1648"/>
<path d="M1010 1004A1300 1300 0 0 1 1640 1641"/>
<path d="M1010 1004A1300 1300 0 0 1 1470 1768"/>
<path d="M1010 1004A1300 1300 0 0 1 1115 1611"/>
<path d="M1010 1004A1300 1300 0 0 1 1293 1570"/>
<path d="M1010 1004A1300 1300 0 0 1 1207 1561"/>
<path d="M1010 1004A1300 1300 0 0 1 1077 1688"/>
<path d="M1010 1004A1300 1300 0 0 1 672 1648"/>
<path class="t2" d="M657 1065A1300 1300 0 0 1 579 1034"/>
<path d="M657 1065A1300 1300 0 0 1 732 1092"/>
<path class="t2" d="M657 1065A1300 1300 0 0 1 563 939"/>
<path d="M657 1065A1300 1300 0 0 1 494 967"/>
<path d="M657 1065A1300 1300 0 0 1 827 899"/>
<path class="t2" d="M657 1065A1300 1300 0 0 1 603 1132"/>
<path d="M657 1065A1300 1300 0 0 1 604 694"/>
<path d="M657 1065A1300 1300 0 0 1 536 662"/>
<path d="M657 1065A1300 1300 0 0 1 543 871"/>
<path d="M657 1065A1300 1300 0 0 1 446 904"/>
<path d="M657 1065A1300 1300 0 0 1 345 994"/>
<path d="M657 1065A1300 1300 0 0 1 371 1077"/>
<path d="M657 1065A1300 1300 0 0 1 504 1084"/>
<path d="M657 1065A1300 1300 0 0 1 409 1142"/>
<path d="M657 1065A1300 1300 0 0 1 518 1147"/>
<path d="M657 1065A1300 1300 0 0 1 448 1223"/>
<path d="M657 1065A1300 1300 0 0 1 524 1210"/>
<path d="M657 1065A1300 1300 0 0 1 659 1217"/>
<path d="M657 1065A1300 1300 0 0 1 777 1212"/>
<path d="M657 1065A1300 1300 0 0 1 887 1213"/>
<path d="M657 1065A1300 1300 0 0 1 608 1263"/>
<path d="M657 1065A1300 1300 0 0 1 886 985"/>
<path d="M657 1065A1300 1300 0 0 1 939 1040"/>
<path d="M657 1065A1300 1300 0 0 1 216 947"/>
<path d="M657 1065A1300 1300 0 0 1 325 1188"/>
<path d="M657 1065A1300 1300 0 0 1 216 1215"/>
<path d="M657 1065A1300 1300 0 0 1 351 699"/>
<path d="M657 1065A1300 1300 0 0 1 491 752"/>
<path d="M657 1065A1300 1300 0 0 1 353 904"/>
<path d="M657 1065A1300 1300 0 0 1 295 934"/>
<path d="M657 1065A1300 1300 0 0 1 253 1099"/>
<path d="M579 1034A1300 1300 0 0 1 563 939"/>
<path d="M579 1034A1300 1300 0 0 1 494 967"/>
<path d="M579 1034A1300 1300 0 0 1 603 1132"/>
<path d="M579 1034A1300 1300 0 0 1 604 694"/>
<path d="M579 1034A1300 1300 0 0 1 536 662"/>
<path d="M579 1034A1300 1300 0 0 1 491 752"/>
<path d="M579 1034A1300 1300 0 0 1 543 871"/>
<path d="M579 1034A1300 1300 0 0 1 353 904"/>
<path d="M579 1034A1300 1300 0 0 1 446 904"/>
<path d="M579 1034A1300 1300 0 0 1 295 934"/>
<path d="M579 1034A1300 1300 0 0 1 345 994"/>
<path d="M579 1034A1300 1300 0 0 1 441 1035"/>
<path d="M579 1034A1300 1300 0 0 1 371 1077"/>
<path d="M579 1034A1300 1300 0 0 1 325 1188"/>
<path d="M579 1034A1300 1300 0 0 1 448 1223"/>
<path d="M579 1034A1300 1300 0 0 1 351 699"/>
<path d="M579 1034A1300 1300 0 0 1 368 771"/>
<path d="M579 1034A1300 1300 0 0 1 253 1099"/>
<path d="M579 1034A1300 1300 0 0 1 133 1045"/>
<path d="M579 1034A1300 1300 0 0 1 131 1139"/>
<path d="M563 939A1300 1300 0 0 1 494 967"/>
<path d="M563 939A1300 1300 0 0 1 827 899"/>
<path d="M563 939A1300 1300 0 0 1 604 694"/>
<path d="M563 939A1300 1300 0 0 1 536 662"/>
<path d="M563 939A1300 1300 0 0 1 491 752"/>
<path d="M563 939A1300 1300 0 0 1 543 871"/>
<path d="M563 939A1300 1300 0 0 1 345 994"/>
<path d="M563 939A1300 1300 0 0 1 603 1132"/>
<path d="M563 939A1300 1300 0 0 1 448 1223"/>
<path d="M563 939A1300 1300 0 0 1 351 699"/>
<path d="M563 939A1300 1300 0 0 1 453 611"/>
<path d="M563 939A1300 1300 0 0 1 330 493"/>
<path d="M563 939A1300 1300 0 0 1 385 551"/>
<path d="M563 939A1300 1300 0 0 1 353 904"/>
<path d="M563 939A1300 1300 0 0 1 295 934"/>
<path d="M563 939A1300 1300 0 0 1 216 947"/>
<path d="M563 939A1300 1300 0 0 1 371 1077"/>
<path d="M732 1092A1300 1300 0 0 1 887 1213"/>
<path d="M732 1092A1300 1300 0 0 1 603 1132"/>
<path d="M732 1092A1300 1300 0 0 1 777 1212"/>
<path d="M886 985A1300 1300 0 0 1 887 1213"/>
<path d="M886 985A1300 1300 0 0 1 603 1132"/>
<path d="M886 985A1300 1300 0 0 1 563 939"/>
<path d="M827 899A1300 1300 0 0 1 579 1034"/>
<path d="M827 899A1300 1300 0 0 1 887 1213"/>
<path d="M896 807A1300 1300 0 0 1 563 939"/>
<path d="M896 807A1300 1300 0 0 1 657 1065"/>
<path d="M1220 1077A1300 1300 0 0 1 887 1213"/>
<path d="M1308 1147A1300 1300 0 0 1 887 1213"/>
<path d="M1308 1147A1300 1300 0 0 1 900 1456"/>
<path d="M887 1213A1300 1300 0 0 1 777 1212"/>
<path d="M887 1213A1300 1300 0 0 1 837 1258"/>
<path d="M887 1213A1300 1300 0 0 1 603 1132"/>
<path d="M887 1213A1300 1300 0 0 1 448 1223"/>
<path d="M887 1213A1300 1300 0 0 1 787 1353"/>
<path d="M887 1213A1300 1300 0 0 1 900 1456"/>
<path d="M887 1213A1300 1300 0 0 1 900 1541"/>
<path d="M887 1213A1300 1300 0 0 1 1030 1308"/>
<path d="M887 1213A1300 1300 0 0 1 887 1313"/>
<path d="M887 1213A1300 1300 0 0 1 1124 1393"/>
<path d="M887 1213A1300 1300 0 0 1 1182 1438"/>
<path d="M887 1213A1300 1300 0 0 1 721 1322"/>
<path d="M887 1213A1300 1300 0 0 1 684 1372"/>
<path d="M900 1456A1300 1300 0 0 1 787 1353"/>
<path d="M900 1456A1300 1300 0 0 1 935 1400"/>
<path d="M900 1456A1300 1300 0 0 1 900 1541"/>
<path d="M900 1456A1300 1300 0 0 1 957 1595"/>
<path d="M900 1456A1300 1300 0 0 1 771 1566"/>
<path d="M900 1456A1300 1300 0 0 1 881 1631"/>
<path d="M900 1456A1300 1300 0 0 1 752 1466"/>
<path d="M900 1456A1300 1300 0 0 1 1030 1308"/>
<path d="M900 1456A1300 1300 0 0 1 887 1313"/>
<path d="M900 1456A1300 1300 0 0 1 1124 1393"/>
<path d="M900 1456A1300 1300 0 0 1 1024 1478"/>
<path d="M900 1456A1300 1300 0 0 1 1060 1525"/>
<path d="M900 1456A1300 1300 0 0 1 989 1699"/>
<path d="M900 1456A1300 1300 0 0 1 534 1352"/>
<path d="M900 1456A1300 1300 0 0 1 649 1458"/>
<path d="M900 1541A1300 1300 0 0 1 957 1595"/>
<path d="M900 1541A1300 1300 0 0 1 771 1566"/>
<path d="M900 1541A1300 1300 0 0 1 881 1631"/>
<path d="M900 1541A1300 1300 0 0 1 1060 1525"/>
<path d="M900 1541A1300 1300 0 0 1 989 1699"/>
<path d="M900 1541A1300 1300 0 0 1 1077 1688"/>
<path d="M900 1541A1300 1300 0 0 1 787 1353"/>
<path d="M900 1541A1300 1300 0 0 1 935 1400"/>
<path d="M900 1541A1300 1300 0 0 1 787 1756"/>
<path d="M900 1541A1300 1300 0 0 1 802 1684"/>
<path d="M900 1541A1300 1300 0 0 1 672 1648"/>
<path d="M827 899A1300 1300 0 0 1 886 985"/>
<path d="M827 899A1300 1300 0 0 1 896 807"/>
<path d="M827 899A1300 1300 0 0 1 604 694"/>
<path d="M827 899A1300 1300 0 0 1 603 1132"/>
<path d="M827 899A1300 1300 0 0 1 543 871"/>
<path d="M827 899A1300 1300 0 0 1 701 857"/>
<path d="M603 1132A1300 1300 0 0 1 448 1223"/>
<path d="M603 1132A1300 1300 0 0 1 524 1210"/>
<path d="M603 1132A1300 1300 0 0 1 659 1217"/>
<path d="M603 1132A1300 1300 0 0 1 409 1142"/>
<path d="M603 1132A1300 1300 0 0 1 518 1147"/>
<path d="M603 1132A1300 1300 0 0 1 325 1188"/>
<path d="M603 1132A1300 1300 0 0 1 608 1263"/>
<path d="M603 1132A1300 1300 0 0 1 712 1152"/>
<path d="M603 1132A1300 1300 0 0 1 411 1287"/>
<path d="M603 1132A1300 1300 0 0 1 325 1313"/>
<path d="M448 1223A1300 1300 0 0 1 216 1215"/>
<path d="M448 1223A1300 1300 0 0 1 325 1188"/>
<path d="M448 1223A1300 1300 0 0 1 411 1287"/>
<path d="M448 1223A1300 1300 0 0 1 388 1392"/>
<path d="M345 994A1300 1300 0 0 1 216 947"/>
<path d="M345 994A1300 1300 0 0 1 295 934"/>
<path d="M345 994A1300 1300 0 0 1 371 1077"/>
<path d="M787 1353A1300 1300 0 0 1 534 1352"/>
<path d="M787 1353A1300 1300 0 0 1 591 1375"/>
<path d="M787 1353A1300 1300 0 0 1 684 1372"/>
<path d="M787 1353A1300 1300 0 0 1 534 1443"/>
<path d="M957 1595A1300 1300 0 0 1 989 1699"/>
<path d="M957 1595A1300 1300 0 0 1 1077 1688"/>
<path d="M957 1595A1300 1300 0 0 1 1258 1648"/>
<path d="M957 1595A1300 1300 0 0 1 1293 1570"/>
<path d="M1124 1393A1300 1300 0 0 1 1182 1438"/>
<path d="M1124 1393A1300 1300 0 0 1 1283 1486"/>
<path d="M1124 1393A1300 1300 0 0 1 1277 1362"/>
<path d="M1220 1077A1300 1300 0 0 1 1308 1147"/>
<path d="M732 1092A1300 1300 0 0 1 712 1152"/>
<path d="M939 1040A1300 1300 0 0 1 836 1122"/>
<path d="M534 1443A1300 1300 0 0 1 448 1223"/>
<path d="M345 1490A1300 1300 0 0 1 579 1034"/>
<path d="M451 1377A1300 1300 0 0 1 657 1065"/>
<path d="M649 1458A1300 1300 0 0 1 657 1065"/>
<path d="M1207 1561A1300 1300 0 0 1 900 1456"/>
<path d="M1115 1611A1300 1300 0 0 1 900 1541"/>
<path d="M444 1520A1300 1300 0 0 1 579 1034"/>
</g>
<g class="et">
<path class="t3" d="M1010 1004A1300 1300 0 0 1 1385 644"/>
<path class="t2" d="M1010 1004A1300 1300 0 0 1 1458 573"/>
<path d="M1010 1004A1300 1300 0 0 1 1546 601"/>
<path class="t2" d="M1010 1004A1300 1300 0 0 1 1789 1049"/>
<path class="t2" d="M1010 1004A1300 1300 0 0 1 1436 1177"/>
<path d="M1010 1004A1300 1300 0 0 1 1873 905"/>
<path class="t2" d="M1010 1004A1300 1300 0 0 0 1992 1460"/>
<path d="M1010 1004A1300 1300 0 0 0 1550 1323"/>
<path class="t2" d="M1010 1004A1300 1300 0 0 0 1743 1451"/>
<path d="M1010 1004A1300 1300 0 0 0 1794 1295"/>
<path d="M1010 1004A1300 1300 0 0 1 1608 1087"/>
<path d="M1010 1004A1300 1300 0 0 1 1858 1129"/>
<path d="M1010 1004A1300 1300 0 0 1 1768 529"/>
<path d="M1010 1004A1300 1300 0 0 1 1972 747"/>
<path d="M1010 1004A1300 1300 0 0 1 1555 829"/>
<path d="M1010 1004A1300 1300 0 0 1 1586 901"/>
<path d="M1010 1004A1300 1300 0 0 1 1431 1075"/>
<path d="M1010 1004A1300 1300 0 0 1 1964 621"/>
<path d="M1010 1004A1300 1300 0 0 1 2046 677"/>
<path d="M1010 1004A1300 1300 0 0 1 2242 1178"/>
<path d="M1010 1004A1300 1300 0 0 1 1768 960"/>
<path d="M1010 1004A1300 1300 0 0 1 1716 1127"/>
<path d="M1010 1004A1300 1300 0 0 0 2002 1357"/>
<path d="M1010 1004A1300 1300 0 0 0 1668 1405"/>
<path d="M1308 1147A1300 1300 0 0 1 1436 1177"/>
<path d="M1308 1147A1300 1300 0 0 0 1992 1460"/>
<path d="M1220 1077A1300 1300 0 0 1 1789 1049"/>
<path d="M900 1541A1300 1300 0 0 0 1436 1177"/>
<path d="M900 1456A1300 1300 0 0 0 1550 1323"/>
<path d="M1450 1293A1300 1300 0 0 0 1550 1323"/>
<path d="M657 1065A1300 1300 0 0 0 1436 1177"/>
<path d="M657 1065A1300 1300 0 0 1 1385 644"/>
<path d="M887 1213A1300 1300 0 0 0 1436 1177"/>
<path class="t2" d="M887 1213A1300 1300 0 0 0 1992 1460"/>
<path d="M787 1353A1300 1300 0 0 0 1992 1460"/>
<path d="M1308 1147A1300 1300 0 0 1 1789 1049"/>
<path d="M886 985A1300 1300 0 0 1 1789 1049"/>
<path d="M579 1034A1300 1300 0 0 1 1385 644"/>
<path d="M1416 1669A1300 1300 0 0 0 1743 1451"/>
<path d="M1220 1077A1300 1300 0 0 1 1385 644"/>
<path d="M1220 1077A1300 1300 0 0 1 1436 1177"/>
<path d="M1308 1147A1300 1300 0 0 1 1385 644"/>
<path d="M1308 1147A1300 1300 0 0 1 1873 905"/>
<path d="M886 985A1300 1300 0 0 1 1385 644"/>
<path d="M827 899A1300 1300 0 0 1 1458 573"/>
<path d="M887 1213A1300 1300 0 0 0 1789 1049"/>
<path d="M887 1213A1300 1300 0 0 0 1550 1323"/>
<path d="M939 1040A1300 1300 0 0 0 1436 1177"/>
<path d="M732 1092A1300 1300 0 0 0 1436 1177"/>
<path d="M896 807A1300 1300 0 0 1 1385 644"/>
<path d="M900 1541A1300 1300 0 0 0 1992 1460"/>
</g>
<g class="ebg">
<path class="t2" d="M1122 573A1300 1300 0 0 1 1385 644"/>
<path d="M1122 573A1300 1300 0 0 1 1458 573"/>
<path d="M1122 573A1300 1300 0 0 1 1546 601"/>
<path d="M1122 573A1300 1300 0 0 1 1768 529"/>
<path d="M1122 573A1300 1300 0 0 0 1789 1049"/>
<path class="t2" d="M992 419A1300 1300 0 0 1 1385 644"/>
<path d="M992 419A1300 1300 0 0 1 1458 573"/>
<path d="M992 419A1300 1300 0 0 1 1768 529"/>
<path d="M992 419A1300 1300 0 0 1 1446 481"/>
<path d="M992 419A1300 1300 0 0 1 1506 355"/>
<path d="M1182 732A1300 1300 0 0 1 1385 644"/>
<path d="M1182 732A1300 1300 0 0 0 1789 1049"/>
<path d="M1182 732A1300 1300 0 0 0 1436 1177"/>
<path d="M1461 922A1300 1300 0 0 0 1789 1049"/>
<path d="M1461 922A1300 1300 0 0 1 1436 1177"/>
<path d="M1461 922A1300 1300 0 0 1 1555 829"/>
<path d="M1217 509A1300 1300 0 0 1 1385 644"/>
<path d="M1217 509A1300 1300 0 0 1 1458 573"/>
<path d="M1335 449A1300 1300 0 0 1 1446 481"/>
<path d="M1335 449A1300 1300 0 0 1 1458 573"/>
<path d="M1290 306A1300 1300 0 0 1 1506 355"/>
<path class="t2" d="M399 458A1300 1300 0 0 1 1458 573"/>
<path d="M399 458A1300 1300 0 0 1 1385 644"/>
<path d="M581 363A1300 1300 0 0 1 1458 573"/>
<path d="M1275 648A1300 1300 0 0 1 1385 644"/>
<path d="M1450 801A1300 1300 0 0 1 1555 829"/>
<path d="M1135 872A1300 1300 0 0 0 1789 1049"/>
<path d="M1075 652A1300 1300 0 0 1 1385 644"/>
<path d="M1039 170A1300 1300 0 0 1 1713 45"/>
<path d="M794 436A1300 1300 0 0 1 1768 529"/>
<path d="M1122 573A1300 1300 0 0 1 1964 621"/>
<path d="M1122 573A1300 1300 0 0 0 1873 905"/>
<path d="M1335 449A1300 1300 0 0 1 1768 529"/>
<path d="M1290 306A1300 1300 0 0 1 1768 529"/>
<path d="M945 734A1300 1300 0 0 1 1385 644"/>
<path d="M1135 872A1300 1300 0 0 0 1436 1177"/>
<path d="M1163 428A1300 1300 0 0 1 1458 573"/>
<path d="M1070 378A1300 1300 0 0 1 1385 644"/>
</g>
<g class="ebr">
<path class="t2" d="M992 419A1300 1300 0 0 1 1010 1004"/>
<path d="M992 419A1300 1300 0 0 0 563 939"/>
<path d="M992 419A1300 1300 0 0 0 657 1065"/>
<path class="t2" d="M1122 573A1300 1300 0 0 1 1010 1004"/>
<path d="M1122 573A1300 1300 0 0 0 827 899"/>
<path d="M1122 573A1300 1300 0 0 0 563 939"/>
<path class="t2" d="M945 734A1300 1300 0 0 1 1010 1004"/>
<path d="M945 734A1300 1300 0 0 0 657 1065"/>
<path d="M945 734A1300 1300 0 0 0 563 939"/>
<path d="M945 734A1300 1300 0 0 0 827 899"/>
<path d="M962 594A1300 1300 0 0 1 1010 1004"/>
<path d="M1182 732A1300 1300 0 0 1 1010 1004"/>
<path d="M794 436A1300 1300 0 0 0 563 939"/>
<path d="M794 436A1300 1300 0 0 0 657 1065"/>
<path d="M399 458A1300 1300 0 0 0 563 939"/>
<path d="M399 458A1300 1300 0 0 0 657 1065"/>
<path d="M616 791A1300 1300 0 0 1 657 1065"/>
<path d="M616 791A1300 1300 0 0 1 563 939"/>
<path d="M616 791A1300 1300 0 0 1 604 694"/>
<path d="M1075 652A1300 1300 0 0 1 1010 1004"/>
<path d="M1135 872A1300 1300 0 0 1 1010 1004"/>
<path d="M636 900A1300 1300 0 0 1 579 1034"/>
<path d="M687 959A1300 1300 0 0 1 657 1065"/>
<path d="M841 483A1300 1300 0 0 0 827 899"/>
<path d="M581 363A1300 1300 0 0 0 579 1034"/>
<path d="M736 588A1300 1300 0 0 0 604 694"/>
<path d="M1020 298A1300 1300 0 0 0 657 1065"/>
<path d="M947 208A1300 1300 0 0 0 563 939"/>
<path d="M399 458A1300 1300 0 0 0 604 694"/>
<path d="M399 458A1300 1300 0 0 0 536 662"/>
<path d="M794 436A1300 1300 0 0 0 604 694"/>
<path d="M841 483A1300 1300 0 0 0 579 1034"/>
<path d="M1122 573A1300 1300 0 0 0 657 1065"/>
</g>
<g class="ey">
<path d="M1270 413A1300 1300 0 0 0 992 419"/>
<path d="M1270 413A1300 1300 0 0 0 1122 573"/>
<path d="M1270 413A1300 1300 0 0 1 1385 644"/>
<path d="M1357 871A1300 1300 0 0 1 1010 1004"/>
<path d="M1357 871A1300 1300 0 0 0 1385 644"/>
<path d="M1230 804A1300 1300 0 0 1 1010 1004"/>
<path d="M744 206A1300 1300 0 0 1 992 419"/>
<path d="M851 226A1300 1300 0 0 1 992 419"/>
<path d="M687 443A1300 1300 0 0 0 399 458"/>
<path d="M616 588A1300 1300 0 0 0 399 458"/>
<path d="M907 308A1300 1300 0 0 1 1122 573"/>
</g>
</g>
<g id="nodes">
<g id="n-u-b2"><circle class="b" cx="794" cy="436" r="33"/></g>
<g id="n-u-b4"><circle class="b" cx="1163" cy="428" r="28"/></g>
<g id="n-u-b5"><circle class="b" cx="1070" cy="378" r="20"/></g>
<g id="n-u-b6"><circle class="b" cx="1335" cy="449" r="30"/></g>
<g id="n-u-b8"><circle class="b" cx="1039" cy="170" r="20"/></g>
<g id="n-u-b15"><circle class="b" cx="1530" cy="255" r="9"/></g>
<g id="n-u-b16"><circle class="b" cx="1185" cy="261" r="18"/></g>
<g id="n-u-b18"><circle class="b" cx="1135" cy="306" r="18"/></g>
<g id="n-u-b21"><circle class="b" cx="1042" cy="523" r="7"/></g>
<g id="n-u-b23"><circle class="b" cx="1122" cy="573" r="57"/></g>
<g id="n-u-b25"><circle class="b" cx="1275" cy="648" r="20"/></g>
<g id="n-u-b28"><circle class="b" cx="1345" cy="732" r="13"/></g>
<g id="n-u-b29"><circle class="b" cx="1481" cy="686" r="7"/></g>
<g id="n-u-b31"><circle class="b" cx="1135" cy="872" r="30"/></g>
<g id="n-u-b34"><circle class="b" cx="220" cy="674" r="8"/></g>
<g id="n-u-b35"><circle class="b" cx="140" cy="721" r="12"/></g>
<g id="n-u-b36"><circle class="b" cx="255" cy="739" r="8"/></g>
<g id="n-u-b37"><circle class="b" cx="419" cy="832" r="8"/></g>
<g id="n-u-b38"><circle class="b" cx="636" cy="900" r="17"/></g>
<g id="n-u-b39"><circle class="b" cx="687" cy="959" r="13"/></g>
<g id="n-u-b42"><circle class="b" cx="506" cy="198" r="9"/></g>
<g id="n-u-b48"><circle class="b" cx="506" cy="503" r="9"/></g>
<g id="n-u-b50"><circle class="b" cx="255" cy="609" r="10"/></g>
<g id="n-u-y3"><circle class="y" cx="702" cy="73" r="9"/></g>
<g id="n-u-y5"><circle class="y" cx="744" cy="206" r="10"/></g>
<g id="n-u-y6"><circle class="y" cx="851" cy="226" r="12"/></g>
<g id="n-u-y7"><circle class="y" cx="907" cy="308" r="9"/></g>
<g id="n-u-y9"><circle class="y" cx="503" cy="346" r="10"/></g>
<g id="n-u-y10"><circle class="y" cx="687" cy="443" r="10"/></g>
<g id="n-u-y11"><circle class="y" cx="616" cy="588" r="11"/></g>
<g id="n-u-y16"><circle class="y" cx="894" cy="624" r="7"/></g>
<g id="n-u-y17"><circle class="y" cx="1228" cy="588" r="9"/></g>
<g id="n-u-r2"><circle class="r" cx="939" cy="1040" r="25"/></g>
<g id="n-u-r3"><circle class="r" cx="886" cy="985" r="32"/></g>
<g id="n-u-r4"><circle class="r" cx="579" cy="1034" r="45"/></g>
<g id="n-u-r6"><circle class="r" cx="732" cy="1092" r="28"/></g>
<g id="n-u-r8"><circle class="r" cx="494" cy="967" r="17"/></g>
<g id="n-u-r11"><circle class="r" cx="712" cy="1152" r="7"/></g>
<g id="n-u-r14"><circle class="r" cx="536" cy="662" r="20"/></g>
<g id="n-u-r15"><circle class="r" cx="669" cy="656" r="17"/></g>
<g id="n-u-r17"><circle class="r" cx="491" cy="752" r="10"/></g>
<g id="n-u-r19"><circle class="r" cx="727" cy="771" r="10"/></g>
<g id="n-u-r21"><circle class="r" cx="701" cy="857" r="10"/></g>
<g id="n-u-r22"><circle class="r" cx="353" cy="904" r="10"/></g>
<g id="n-u-r23"><circle class="r" cx="446" cy="904" r="10"/></g>
<g id="n-u-r24"><circle class="r" cx="295" cy="934" r="8"/></g>
<g id="n-u-r27"><circle class="r" cx="441" cy="1035" r="8"/></g>
<g id="n-u-r29"><circle class="r" cx="371" cy="1077" r="12"/></g>
<g id="n-u-r30"><circle class="r" cx="253" cy="1099" r="8"/></g>
<g id="n-u-r31"><circle class="r" cx="504" cy="1084" r="8"/></g>
<g id="n-u-r33"><circle class="r" cx="409" cy="1142" r="8"/></g>
<g id="n-u-r34"><circle class="r" cx="518" cy="1147" r="8"/></g>
<g id="n-u-r35"><circle class="r" cx="325" cy="1188" r="17"/></g>
<g id="n-u-r37"><circle class="r" cx="216" cy="1215" r="11"/></g>
<g id="n-u-r38"><circle class="r" cx="524" cy="1210" r="12"/></g>
<g id="n-u-r39"><circle class="r" cx="659" cy="1217" r="10"/></g>
<g id="n-u-r40"><circle class="r" cx="777" cy="1212" r="20"/></g>
<g id="n-u-r43"><circle class="r" cx="411" cy="1287" r="8"/></g>
<g id="n-u-r44"><circle class="r" cx="837" cy="1258" r="13"/></g>
<g id="n-u-r48"><circle class="r" cx="1117" cy="1114" r="8"/></g>
<g id="n-u-r49"><circle class="r" cx="1105" cy="1029" r="10"/></g>
<g id="n-u-r50"><circle class="r" cx="1178" cy="954" r="10"/></g>
<g id="n-u-r51"><circle class="r" cx="1220" cy="1077" r="33"/></g>
<g id="n-u-r52"><circle class="r" cx="1308" cy="1147" r="33"/></g>
<g id="n-u-r53"><circle class="r" cx="896" cy="807" r="22"/></g>
<g id="n-u-r54"><circle class="r" cx="1035" cy="832" r="13"/></g>
<g id="n-u-r55"><circle class="r" cx="1034" cy="736" r="12"/></g>
<g id="n-u-r56"><circle class="r" cx="1153" cy="1262" r="12"/></g>
<g id="n-u-r58"><circle class="r" cx="1450" cy="1293" r="13"/></g>
<g id="n-u-r61"><circle class="r" cx="721" cy="1322" r="8"/></g>
<g id="n-u-r62"><circle class="r" cx="887" cy="1313" r="12"/></g>
<g id="n-u-r63"><circle class="r" cx="534" cy="1352" r="8"/></g>
<g id="n-u-r64"><circle class="r" cx="591" cy="1375" r="11"/></g>
<g id="n-u-r65"><circle class="r" cx="684" cy="1372" r="11"/></g>
<g id="n-u-r66"><circle class="r" cx="451" cy="1377" r="8"/></g>
<g id="n-u-r73"><circle class="r" cx="649" cy="1458" r="15"/></g>
<g id="n-u-r74"><circle class="r" cx="752" cy="1466" r="14"/></g>
<g id="n-u-r75"><circle class="r" cx="809" cy="1425" r="8"/></g>
<g id="n-u-r77"><circle class="r" cx="1024" cy="1478" r="11"/></g>
<g id="n-u-r79"><circle class="r" cx="345" cy="1490" r="8"/></g>
<g id="n-u-r82"><circle class="r" cx="1060" cy="1525" r="20"/></g>
<g id="n-u-r83"><circle class="r" cx="771" cy="1566" r="17"/></g>
<g id="n-u-r85"><circle class="r" cx="1115" cy="1611" r="10"/></g>
<g id="n-u-r86"><circle class="r" cx="881" cy="1631" r="13"/></g>
<g id="n-u-r88"><circle class="r" cx="1293" cy="1570" r="10"/></g>
<g id="n-u-r90"><circle class="r" cx="1258" cy="1648" r="12"/></g>
<g id="n-u-r91"><circle class="r" cx="802" cy="1684" r="10"/></g>
<g id="n-u-r94"><circle class="r" cx="1077" cy="1688" r="16"/></g>
<g id="n-u-r98"><circle class="r" cx="1470" cy="1768" r="10"/></g>
<g id="n-u-r102"><circle class="r" cx="466" cy="428" r="9"/></g>
<g id="n-u-r103"><circle class="r" cx="330" cy="493" r="11"/></g>
<g id="n-u-r104"><circle class="r" cx="385" cy="551" r="9"/></g>
<g id="n-u-r105"><circle class="r" cx="700" cy="501" r="9"/></g>
<g id="n-u-r107"><circle class="r" cx="809" cy="597" r="8"/></g>
<g id="n-u-g3"><circle class="g" cx="1546" cy="601" r="42"/></g>
<g id="n-u-g5"><circle class="g" cx="1861" cy="558" r="42"/></g>
<g id="n-u-g7"><circle class="g" cx="1531" cy="446" r="15"/></g>
<g id="n-u-g8"><circle class="g" cx="1640" cy="488" r="13"/></g>
<g id="n-u-g10"><circle class="g" cx="1689" cy="320" r="12"/></g>
<g id="n-u-g11"><circle class="g" cx="1680" cy="156" r="9"/></g>
<g id="n-u-g18"><circle class="g" cx="1786" cy="411" r="8"/></g>
<g id="n-u-g22"><circle class="g" cx="1992" cy="531" r="10"/></g>
<g id="n-u-g25"><circle class="g" cx="1763" cy="611" r="27"/></g>
<g id="n-u-g26"><circle class="g" cx="1844" cy="657" r="23"/></g>
<g id="n-u-g30"><circle class="g" cx="1868" cy="771" r="12"/></g>
<g id="n-u-g32"><circle class="g" cx="2066" cy="771" r="22"/></g>
<g id="n-u-g35"><circle class="g" cx="2289" cy="812" r="12"/></g>
<g id="n-u-g36"><circle class="g" cx="1824" cy="832" r="8"/></g>
<g id="n-u-g38"><circle class="g" cx="2239" cy="881" r="11"/></g>
<g id="n-u-g39"><circle class="g" cx="2129" cy="909" r="33"/></g>
<g id="n-u-g42"><circle class="g" cx="2012" cy="955" r="13"/></g>
<g id="n-u-g43"><circle class="g" cx="2327" cy="967" r="10"/></g>
<g id="n-u-g49"><circle class="g" cx="2101" cy="1100" r="10"/></g>
<g id="n-u-g52"><circle class="g" cx="1716" cy="1127" r="22"/></g>
<g id="n-u-g54"><circle class="g" cx="2365" cy="1177" r="12"/></g>
<g id="n-u-g55b"><circle class="g" cx="2021" cy="1198" r="18"/></g>
<g id="n-u-g56"><circle class="g" cx="1771" cy="1192" r="7"/></g>
<g id="n-u-g58"><circle class="g" cx="1606" cy="1198" r="13"/></g>
<g id="n-u-g61"><circle class="g" cx="1625" cy="716" r="12"/></g>
<g id="n-u-g62"><circle class="g" cx="1586" cy="901" r="20"/></g>
<g id="n-u-g64"><circle class="g" cx="1689" cy="1030" r="12"/></g>
<g id="n-u-g66"><circle class="g" cx="1608" cy="1087" r="28"/></g>
<g id="n-u-g67"><circle class="g" cx="1443" cy="1370" r="15"/></g>
<g id="n-u-g70"><circle class="g" cx="1704" cy="1307" r="8"/></g>
<g id="n-u-g72b"><circle class="g" cx="2222" cy="1278" r="15"/></g>
<g id="n-u-g74"><circle class="g" cx="1886" cy="1382" r="8"/></g>
<g id="n-u-g80"><circle class="g" cx="2152" cy="1448" r="12"/></g>
<g id="n-u-g81"><circle class="g" cx="1636" cy="1473" r="8"/></g>

<g id="n-wildlife"><circle class="y" cx="736" cy="25" r="6"/><text class="s24" x="736" y="25">wildlife</text></g>
<g id="n-animalia"><circle class="y" cx="621" cy="53" r="6"/><text class="s24" x="621" y="53">animalia</text></g>
<g id="n-automobile-drivers"><circle class="p" cx="942" cy="112" r="6"/><text class="s24" x="939" y="112">automobile drivers</text></g>
<g id="n-safety-management"><circle class="b" cx="1207" cy="72" r="6"/><text class="s24" x="1207" y="72">safety management</text></g>
<g id="n-random-parameters"><circle class="b" cx="341" cy="350" r="5"/><text class="s24" x="341" y="350">random parameters</text></g>
<g id="n-crashes"><circle class="b" cx="602" cy="514" r="6"/><text class="s24" x="602" y="514">crashes</text></g>
<g id="n-learning-systems"><circle class="r" cx="133" cy="1045" r="7"/><text class="s24" x="130" y="1045">learning systems</text></g>
<g id="n-speed-control"><circle class="r" cx="836" cy="1122" r="5"/><text class="s24" x="836" y="1122">speed control</text></g>
<g id="n-safety-countermeasures"><circle class="r" cx="325" cy="1313" r="6"/><text class="s24" x="323" y="1313">safety countermeasures</text></g>
<g id="n-urban-design"><circle class="r" cx="1235" cy="1861" r="8"/><text class="s24" x="1235" y="1861">urban design</text></g>
<g id="n-policy"><circle class="r" cx="1370" cy="1252" r="4"/><text class="s24" x="1370" y="1252">policy</text></g>
<g id="n-india"><circle class="g" cx="1951" cy="1283" r="5"/><text class="s24" x="1951" y="1283">india</text></g>
<g id="n-health-status"><circle class="g" cx="2196" cy="1359" r="8"/><text class="s24" x="2192" y="1360">health status</text></g>
<g id="n-noise"><circle class="g" cx="1468" cy="1448" r="5"/><text class="s24" x="1468" y="1448">noise</text></g>
<g id="n-quality-of-life"><circle class="g" cx="1598" cy="1571" r="6"/><text class="s24" x="1595" y="1571">quality of life</text></g>

<g id="n-injury-severity-score"><circle class="b" cx="321" cy="275" r="7"/><text class="s27" x="321" y="275">injury severity score</text></g>
<g id="n-unobserved-heterogeneity"><circle class="b" cx="191" cy="559" r="9"/><text class="s27" x="186" y="559">unobserved heterogeneity</text></g>
<g id="n-signalized-intersection"><circle class="r" cx="453" cy="611" r="8"/><text class="s27" x="453" y="611">signalized intersection</text></g>
<g id="n-bayesian-networks"><circle class="b" cx="191" cy="822" r="9"/><text class="s27" x="190" y="822">bayesian networks</text></g>
<g id="n-traffic-signals"><circle class="r" cx="351" cy="699" r="10"/><text class="s27" x="353" y="699">traffic signals</text></g>
<g id="n-random-processes"><circle class="r" cx="368" cy="771" r="8"/><text class="s27" x="370" y="771">random processes</text></g>
<g id="n-traffic-volumes"><circle class="r" cx="543" cy="871" r="10"/><text class="s27" x="541" y="869">traffic volumes</text></g>
<g id="n-machine-learning"><circle class="r" cx="131" cy="1139" r="7"/><text class="s27" x="131" y="1139">machine learning</text></g>
<g id="n-explanatory-variables"><circle class="r" cx="608" cy="1263" r="11"/><text class="s27" x="529" y="1268">explanatory variables</text></g>
<g id="n-research"><circle class="r" cx="1155" cy="1168" r="8"/><text class="s27" x="1158" y="1167">research</text></g>
<g id="n-california"><circle class="r" cx="1010" cy="1143" r="8"/><text class="s27" x="1012" y="1142">california</text></g>
<g id="n-highway-engineering"><circle class="r" cx="388" cy="1392" r="8"/><text class="s27" x="388" y="1390">highway engineering</text></g>
<g id="n-law-enforcement"><circle class="r" cx="935" cy="1400" r="8"/><text class="s27" x="935" y="1398">law enforcement</text></g>
<g id="n-urbanization"><circle class="r" cx="1277" cy="1362" r="7"/><text class="s27" x="1277" y="1360">urbanization</text></g>
<g id="n-factor-analysis"><circle class="r" cx="534" cy="1443" r="12"/><text class="s27" x="536" y="1441">factor analysis</text></g>
<g id="n-public-transport"><circle class="r" cx="1283" cy="1486" r="10"/><text class="s27" x="1283" y="1486">public transport</text></g>
<g id="n-traffic-crashes"><circle class="r" cx="444" cy="1520" r="7"/><text class="s27" x="444" y="1520">traffic crashes</text></g>
<g id="n-modeling"><circle class="r" cx="1207" cy="1561" r="8"/><text class="s27" x="1207" y="1560">modeling</text></g>
<g id="n-urban-growth"><circle class="r" cx="551" cy="1694" r="8"/><text class="s27" x="551" y="1694">urban growth</text></g>
<g id="n-travel-behavior"><circle class="r" cx="1416" cy="1669" r="12"/><text class="s27" x="1416" y="1668">travel behavior</text></g>
<g id="n-employment"><circle class="r" cx="1640" cy="1641" r="8"/><text class="s27" x="1636" y="1640">employment</text></g>
<g id="n-cycle-transport"><circle class="r" cx="1363" cy="1731" r="12"/><text class="s27" x="1363" y="1731">cycle transport</text></g>
<g id="n-intelligent-systems"><circle class="r" cx="787" cy="1756" r="8"/><text class="s27" x="787" y="1754">intelligent systems</text></g>
<g id="n-animal"><circle class="y" cx="776" cy="140" r="7"/><text class="s27" x="776" y="140">animal</text></g>
<g id="n-highway"><circle class="y" cx="754" cy="308" r="9"/><text class="s27" x="754" y="308">highway</text></g>
<g id="n-physiology"><circle class="y" cx="1134" cy="23" r="7"/><text class="s27" x="1134" y="23">physiology</text></g>
<g id="n-developing-countries"><circle class="y" cx="1230" cy="804" r="9"/><text class="s27" x="1225" y="802">developing countries</text></g>
<g id="n-methodology"><circle class="b" cx="1375" cy="30" r="8"/><text class="s27" x="1373" y="30">methodology</text></g>
<g id="n-canada"><circle class="b" cx="1392" cy="261" r="10"/><text class="s27" x="1392" y="261">canada</text></g>
<g id="n-bicycle"><circle class="b" cx="1450" cy="801" r="10"/><text class="s27" x="1450" y="801">bicycle</text></g>
<g id="n-socioeconomic-factors"><circle class="g" cx="1506" cy="355" r="12"/><text class="s27" x="1503" y="353">socioeconomic factors</text></g>
<g id="n-infant"><circle class="g" cx="1756" cy="208" r="10"/><text class="s27" x="1753" y="205">infant</text></g>
<g id="n-age"><circle class="g" cx="1828" cy="345" r="12"/><text class="s27" x="1828" y="347">age</text></g>
<g id="n-psychology"><circle class="g" cx="2116" cy="381" r="11"/><text class="s27" x="2109" y="380">psychology</text></g>
<g id="n-sex-difference"><circle class="g" cx="1883" cy="439" r="8"/><text class="s27" x="1883" y="436">sex difference</text></g>
<g id="n-poverty"><circle class="g" cx="2151" cy="606" r="8"/><text class="s27" x="2151" y="601">poverty</text></g>
<g id="n-aging"><circle class="g" cx="2181" cy="767" r="8"/><text class="s27" x="2179" y="766">aging</text></g>
<g id="n-health-behavior"><circle class="g" cx="2495" cy="787" r="10"/><text class="s27" x="2492" y="786">health behavior</text></g>
<g id="n-leisure"><circle class="g" cx="2520" cy="909" r="10"/><text class="s27" x="2520" y="907">leisure</text></g>
<g id="n-health-promotion"><circle class="g" cx="2009" cy="1074" r="13"/><text class="s27" x="2007" y="1070">health promotion</text></g>
<g id="n-environmental-exposure"><circle class="g" cx="1937" cy="1193" r="6"/><text class="s27" x="1937" y="1193">environmental exposure</text></g>
<g id="n-united-kingdom"><circle class="g" cx="1555" cy="1022" r="7"/><text class="s27" x="1553" y="1020">united kingdom</text></g>
<g id="n-walkability"><circle class="g" cx="1668" cy="1405" r="10"/><text class="s27" x="1666" y="1403">walkability</text></g>
<g id="n-human-experiment"><circle class="g" cx="1859" cy="1511" r="8"/><text class="s27" x="1859" y="1508">human experiment</text></g>

<g id="n-risk"><circle class="b" cx="1278" cy="170" r="8"/><text class="s28" x="1278" y="168">risk</text></g>
<g id="n-injuries"><circle class="b" cx="1455" cy="176" r="8"/><text class="s28" x="1455" y="175">injuries</text></g>
<g id="n-injury-scale"><circle class="b" cx="551" cy="261" r="10"/><text class="s28" x="551" y="261">injury scale</text></g>
<g id="n-crashworthiness"><circle class="b" cx="736" cy="588" r="13"/><text class="s28" x="734" y="586">crashworthiness</text></g>
<g id="n-planning"><circle class="r" cx="1030" cy="1308" r="8"/><text class="s28" x="1030" y="1308">planning</text></g>
<g id="n-health-risks"><circle class="r" cx="672" cy="1648" r="8"/><text class="s28" x="672" y="1646">health risks</text></g>

<g id="n-car"><circle class="b" cx="1134" cy="200" r="12"/><text class="s29" x="1132" y="198">car</text></g>
<g id="n-motor-vehicles"><circle class="b" cx="637" cy="188" r="14"/><text class="s29" x="636" y="188">motor vehicles</text></g>
<g id="n-forecasting"><circle class="r" cx="216" cy="947" r="11"/><text class="s29" x="216" y="947">forecasting</text></g>
<g id="n-accident"><circle class="r" cx="1124" cy="1393" r="15"/><text class="s29" x="1125" y="1392">accident</text></g>
<g id="n-decision-making"><circle class="r" cx="1182" cy="1438" r="17"/><text class="s29" x="1182" y="1436">decision making</text></g>
<g id="n-traffic-management"><circle class="r" cx="989" cy="1699" r="14"/><text class="s29" x="984" y="1694">traffic management</text></g>
<g id="n-preschool-child"><circle class="g" cx="1713" cy="45" r="13"/><text class="s29" x="1713" y="45">preschool child</text></g>
<g id="n-child-preschool"><circle class="g" cx="1838" cy="133" r="15"/><text class="s29" x="1836" y="130">child, preschool</text></g>
<g id="n-very-elderly"><circle class="g" cx="2079" cy="288" r="13"/><text class="s29" x="2077" y="286">very elderly</text></g>
<g id="n-aged-80-and-over"><circle class="g" cx="2129" cy="493" r="17"/><text class="s29" x="2127" y="493">aged, 80 and over</text></g>
<g id="n-major-clinical-study"><circle class="g" cx="2264" cy="689" r="16"/><text class="s29" x="2262" y="686">major clinical study</text></g>
<g id="n-questionnaire"><circle class="g" cx="2199" cy="999" r="17"/><text class="s29" x="2195" y="992">questionnaire</text></g>
<g id="n-residential-area"><circle class="g" cx="2104" cy="1280" r="6"/><text class="s29" x="2104" y="1278">residential area</text></g>
<g id="n-crime"><circle class="g" cx="2002" cy="1357" r="17"/><text class="s29" x="2001" y="1357">crime</text></g>

<g id="n-cross-sectional-studies"><circle class="g" cx="2046" cy="846" r="23"/><text class="s30" x="2047" y="844">cross-sectional studies</text></g>
<g id="n-environment"><circle class="g" cx="1768" cy="960" r="13"/><text class="s30" x="1769" y="957">environment</text></g>
<g id="n-school"><circle class="g" cx="1918" cy="992" r="15"/><text class="s30" x="1921" y="989">school</text></g>
<g id="n-procedures"><circle class="g" cx="1719" cy="824" r="16"/><text class="s30" x="1718" y="819">procedures</text></g>
<g id="n-housing"><circle class="g" cx="1431" cy="1075" r="13"/><text class="s30" x="1431" y="1073">housing</text></g>
<g id="n-travel"><circle class="g" cx="1743" cy="1451" r="16"/><text class="s30" x="1741" y="1450">travel</text></g>
<g id="n-city"><circle class="g" cx="1555" cy="829" r="20"/><text class="s30" x="1555" y="829">city</text></g>
<g id="n-mortality"><circle class="y" cx="1270" cy="413" r="22"/><text class="s30" x="1270" y="413">mortality</text></g>
<g id="n-public-health"><circle class="g" cx="1794" cy="1295" r="18"/><text class="s30" x="1794" y="1297">public health</text></g>

<g id="n-prevention-and-control"><circle class="b" cx="841" cy="483" r="22"/><text class="s32" x="844" y="484">prevention and control</text></g>
<g id="n-car-driving"><circle class="b" cx="1020" cy="298" r="20"/><text class="s32" x="1022" y="300">car driving</text></g>
<g id="n-risk-factors"><circle class="b" cx="1290" cy="306" r="20"/><text class="s32" x="1292" y="306">risk factors</text></g>
<g id="n-motor-vehicle"><circle class="b" cx="962" cy="594" r="20"/><text class="s32" x="964" y="589">motor vehicle</text></g>
<g id="n-pedestrians"><circle class="b" cx="1075" cy="652" r="16"/><text class="s32" x="1075" y="650">pedestrians</text></g>
<g id="n-bayes-theorem"><circle class="b" cx="581" cy="363" r="17"/><text class="s32" x="584" y="363">bayes theorem</text></g>
<g id="n-injury"><circle class="b" cx="947" cy="208" r="20"/><text class="s32" x="949" y="208">injury</text></g>
<g id="n-population-statistics"><circle class="r" cx="604" cy="694" r="20"/><text class="s32" x="603" y="691">population statistics</text></g>
<g id="n-safety-engineering"><circle class="r" cx="345" cy="994" r="17"/><text class="s32" x="348" y="1000">safety engineering</text></g>
<g id="n-highway-planning"><circle class="r" cx="448" cy="1223" r="20"/><text class="s32" x="449" y="1222">highway planning</text></g>
<g id="n-urban-transportation"><circle class="r" cx="787" cy="1353" r="17"/><text class="s32" x="789" y="1352">urban transportation</text></g>
<g id="n-urban-planning"><circle class="r" cx="900" cy="1456" r="22"/><text class="s32" x="900" y="1456">urban planning</text></g>
<g id="n-transportation-planning"><circle class="r" cx="957" cy="1595" r="18"/><text class="s32" x="957" y="1593">transportation planning</text></g>
<g id="n-population-density"><circle class="y" cx="1357" cy="871" r="17"/><text class="s32" x="1357" y="871">population density</text></g>
<g id="n-urban-population"><circle class="g" cx="1446" cy="481" r="20"/><text class="s32" x="1445" y="479">urban population</text></g>
<g id="n-controlled-study"><circle class="g" cx="1776" cy="757" r="18"/><text class="s32" x="1778" y="751">controlled study</text></g>
<g id="n-perception"><circle class="g" cx="2264" cy="1084" r="20"/><text class="s32" x="2267" y="1082">perception</text></g>
<g id="n-urban-area"><circle class="g" cx="1550" cy="1323" r="20"/><text class="s32" x="1551" y="1323">urban area</text></g>

<g id="n-risk-factor"><circle class="b" cx="1217" cy="509" r="26"/><text class="s34" x="1212" y="509">risk factor</text></g>
<g id="n-bicycling"><circle class="b" cx="1461" cy="922" r="23"/><text class="s34" x="1456" y="920">bicycling</text></g>
<g id="n-spatial-analysis"><circle class="b" cx="616" cy="791" r="23"/><text class="s34" x="609" y="789">spatial analysis</text></g>
<g id="n-models-statistical"><circle class="b" cx="399" cy="458" r="25"/><text class="s34" x="399" y="458">models, statistical</text></g>
<g id="n-child"><circle class="g" cx="1904" cy="345" r="23"/><text class="s34" x="1903" y="345">child</text></g>
<g id="n-middle-aged"><circle class="g" cx="1964" cy="621" r="30"/><text class="s34" x="1964" y="619">middle aged</text></g>
<g id="n-priority-journal"><circle class="g" cx="1858" cy="1129" r="28"/><text class="s34" x="1849" y="1129">priority journal</text></g>
<g id="n-physical-activity"><circle class="g" cx="2242" cy="1178" r="25"/><text class="s34" x="2235" y="1177">physical activity</text></g>
<g id="n-neighborhood"><circle class="g" cx="1992" cy="1460" r="23"/><text class="s34" x="1989" y="1458">neighborhood</text></g>

<g id="n-transportation-safety"><circle class="r" cx="900" cy="1541" r="30"/><text class="s37" x="904" y="1536">transportation safety</text></g>
<g id="n-aged"><circle class="g" cx="2046" cy="677" r="25"/><text class="s37" x="2044" y="672">aged</text></g>
<g id="n-adult"><circle class="g" cx="1972" cy="747" r="33"/><text class="s37" x="1974" y="744">adult</text></g>
<g id="n-demography"><circle class="g" cx="1873" cy="905" r="30"/><text class="s37" x="1873" y="904">demography</text></g>

<g id="n-pedestrian-safety"><circle class="r" cx="827" cy="899" r="33"/><text class="s39" x="821" y="899">pedestrian safety</text></g>
<g id="n-traffic-control"><circle class="r" cx="603" cy="1132" r="33"/><text class="s39" x="601" y="1132">traffic control</text></g>
<g id="n-accident-prevention"><circle class="r" cx="887" cy="1213" r="33"/><text class="s39" x="882" y="1215">accident prevention</text></g>
<g id="n-risk-assessment"><circle class="b" cx="945" cy="734" r="33"/><text class="s39" x="939" y="732">risk assessment</text></g>

<g id="n-accidents"><circle class="r" cx="563" cy="939" r="42"/><text class="s42" x="564" y="937">accidents</text></g>
<g id="n-walking"><circle class="g" cx="1789" cy="1049" r="45"/><text class="s42" x="1794" y="1045">walking</text></g>
<g id="n-female"><circle class="g" cx="1768" cy="529" r="42"/><text class="s42" x="1764" y="533">female</text></g>
<g id="n-safety"><circle class="b" cx="1182" cy="732" r="35"/><text class="s42" x="1180" y="732">safety</text></g>
<g id="n-environmental-planning"><circle class="g" cx="1458" cy="573" r="45"/><text class="s42" x="1465" y="571">environmental planning</text></g>
<g id="n-traffic-safety"><circle class="g" cx="1436" cy="1177" r="37"/><text class="s42" x="1436" y="1177">traffic safety</text></g>

<g id="n-motor-transportation"><circle class="r" cx="657" cy="1065" r="45"/><text class="s44" x="659" y="1065">motor transportation</text></g>
<g id="n-accidents-traffic"><circle class="b" cx="992" cy="419" r="50"/><text class="s46" x="990" y="416">accidents, traffic</text></g>
<g id="n-human"><circle class="g" cx="1385" cy="644" r="63"/><text class="s53" x="1385" y="641">human</text></g>
<g id="n-land-use"><circle class="r" cx="1010" cy="1004" r="80"/><text class="s60" x="1014" y="1000">land use</text></g>
</g>
</svg>
